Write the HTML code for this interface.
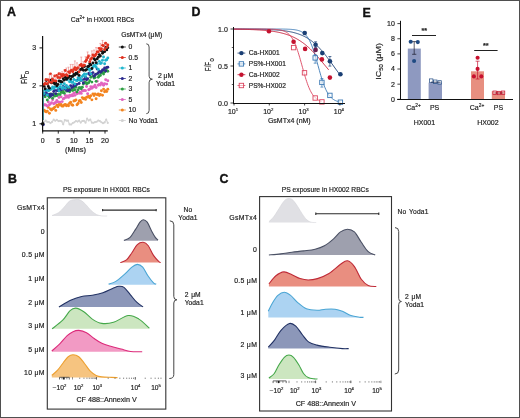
<!DOCTYPE html>
<html><head><meta charset="utf-8"><style>
html,body{margin:0;padding:0;background:#fff;overflow:hidden;}
svg{display:block;font-family:"Liberation Sans", sans-serif;will-change:transform;}
text{stroke:#222;stroke-width:0.18px;stroke-linejoin:round;paint-order:stroke;}
</style></head><body>
<svg width="520" height="418" viewBox="0 0 520 418">
<rect x="0" y="0" width="520" height="418" fill="#fff"/>
<text x="7.00" y="16.30" font-size="12.4" text-anchor="start" fill="#111" font-weight="bold" style="stroke:#111;stroke-width:0.35px">A</text>
<text x="191.60" y="16.40" font-size="12.4" text-anchor="start" fill="#111" font-weight="bold" style="stroke:#111;stroke-width:0.35px">D</text>
<text x="362.60" y="16.60" font-size="12.4" text-anchor="start" fill="#111" font-weight="bold" style="stroke:#111;stroke-width:0.35px">E</text>
<text x="7.90" y="182.70" font-size="12.4" text-anchor="start" fill="#111" font-weight="bold" style="stroke:#111;stroke-width:0.35px">B</text>
<text x="219.40" y="182.70" font-size="12.4" text-anchor="start" fill="#111" font-weight="bold" style="stroke:#111;stroke-width:0.35px">C</text>
<text x="70.80" y="21.50" font-size="6.8" text-anchor="start" fill="#222" font-weight="normal" >Ca<tspan font-size="4.6" dy="-2.8">2+</tspan><tspan dy="2.8"> in HX001 RBCs</tspan></text>
<polyline points="44.10,121.96 45.69,120.65 47.29,121.91 48.88,122.06 50.47,123.11 52.06,121.89 53.66,119.62 55.25,120.80 56.84,119.75 58.43,121.10 60.03,120.85 61.62,121.21 63.21,124.37 64.80,120.06 66.40,120.66 67.99,120.67 69.58,124.41 71.17,124.50 72.77,123.04 74.36,122.32 75.95,121.00 77.55,121.60 79.14,120.63 80.73,122.62 82.32,121.00 83.92,120.85 85.51,122.65 87.10,118.59 88.69,120.57 90.29,119.48 91.88,122.58 93.47,122.79 95.06,122.11 96.66,121.70 98.25,120.44 99.84,121.10 101.43,122.29 103.03,123.16 104.62,122.41 106.21,119.44 107.80,122.90" fill="none" stroke="#d8d8d8" stroke-width="1.3" stroke-linejoin="round"/>
<circle cx="44.10" cy="121.96" r="1.05" fill="#d2d2d2"/>
<circle cx="45.69" cy="120.65" r="1.05" fill="#d2d2d2"/>
<circle cx="47.29" cy="121.91" r="1.05" fill="#d2d2d2"/>
<circle cx="48.88" cy="122.06" r="1.05" fill="#d2d2d2"/>
<circle cx="50.47" cy="123.11" r="1.05" fill="#d2d2d2"/>
<circle cx="52.06" cy="121.89" r="1.05" fill="#d2d2d2"/>
<circle cx="53.66" cy="119.62" r="1.05" fill="#d2d2d2"/>
<circle cx="55.25" cy="120.80" r="1.05" fill="#d2d2d2"/>
<circle cx="56.84" cy="119.75" r="1.05" fill="#d2d2d2"/>
<circle cx="58.43" cy="121.10" r="1.05" fill="#d2d2d2"/>
<circle cx="60.03" cy="120.85" r="1.05" fill="#d2d2d2"/>
<circle cx="61.62" cy="121.21" r="1.05" fill="#d2d2d2"/>
<circle cx="63.21" cy="124.37" r="1.05" fill="#d2d2d2"/>
<circle cx="64.80" cy="120.06" r="1.05" fill="#d2d2d2"/>
<circle cx="66.40" cy="120.66" r="1.05" fill="#d2d2d2"/>
<circle cx="67.99" cy="120.67" r="1.05" fill="#d2d2d2"/>
<circle cx="69.58" cy="124.41" r="1.05" fill="#d2d2d2"/>
<circle cx="71.17" cy="124.50" r="1.05" fill="#d2d2d2"/>
<circle cx="72.77" cy="123.04" r="1.05" fill="#d2d2d2"/>
<circle cx="74.36" cy="122.32" r="1.05" fill="#d2d2d2"/>
<circle cx="75.95" cy="121.00" r="1.05" fill="#d2d2d2"/>
<circle cx="77.55" cy="121.60" r="1.05" fill="#d2d2d2"/>
<circle cx="79.14" cy="120.63" r="1.05" fill="#d2d2d2"/>
<circle cx="80.73" cy="122.62" r="1.05" fill="#d2d2d2"/>
<circle cx="82.32" cy="121.00" r="1.05" fill="#d2d2d2"/>
<circle cx="83.92" cy="120.85" r="1.05" fill="#d2d2d2"/>
<circle cx="85.51" cy="122.65" r="1.05" fill="#d2d2d2"/>
<circle cx="87.10" cy="118.59" r="1.05" fill="#d2d2d2"/>
<circle cx="88.69" cy="120.57" r="1.05" fill="#d2d2d2"/>
<circle cx="90.29" cy="119.48" r="1.05" fill="#d2d2d2"/>
<circle cx="91.88" cy="122.58" r="1.05" fill="#d2d2d2"/>
<circle cx="93.47" cy="122.79" r="1.05" fill="#d2d2d2"/>
<circle cx="95.06" cy="122.11" r="1.05" fill="#d2d2d2"/>
<circle cx="96.66" cy="121.70" r="1.05" fill="#d2d2d2"/>
<circle cx="98.25" cy="120.44" r="1.05" fill="#d2d2d2"/>
<circle cx="99.84" cy="121.10" r="1.05" fill="#d2d2d2"/>
<circle cx="101.43" cy="122.29" r="1.05" fill="#d2d2d2"/>
<circle cx="103.03" cy="123.16" r="1.05" fill="#d2d2d2"/>
<circle cx="104.62" cy="122.41" r="1.05" fill="#d2d2d2"/>
<circle cx="106.21" cy="119.44" r="1.05" fill="#d2d2d2"/>
<circle cx="107.80" cy="122.90" r="1.05" fill="#d2d2d2"/>
<circle cx="44.10" cy="110.25" r="1.45" fill="#f3841f"/>
<circle cx="45.16" cy="111.32" r="1.45" fill="#f3841f"/>
<circle cx="46.23" cy="111.92" r="1.45" fill="#f3841f"/>
<circle cx="47.29" cy="111.14" r="1.45" fill="#f3841f"/>
<circle cx="48.35" cy="107.40" r="1.45" fill="#f3841f"/>
<circle cx="49.41" cy="113.26" r="1.45" fill="#f3841f"/>
<circle cx="50.47" cy="108.93" r="1.45" fill="#f3841f"/>
<circle cx="51.53" cy="109.95" r="1.45" fill="#f3841f"/>
<circle cx="52.60" cy="108.90" r="1.45" fill="#f3841f"/>
<circle cx="53.66" cy="108.43" r="1.45" fill="#f3841f"/>
<circle cx="54.72" cy="107.17" r="1.45" fill="#f3841f"/>
<circle cx="55.78" cy="110.41" r="1.45" fill="#f3841f"/>
<circle cx="56.84" cy="105.25" r="1.45" fill="#f3841f"/>
<circle cx="57.90" cy="106.79" r="1.45" fill="#f3841f"/>
<circle cx="58.97" cy="104.39" r="1.45" fill="#f3841f"/>
<circle cx="60.03" cy="105.03" r="1.45" fill="#f3841f"/>
<circle cx="61.09" cy="104.49" r="1.45" fill="#f3841f"/>
<circle cx="62.15" cy="106.14" r="1.45" fill="#f3841f"/>
<circle cx="63.21" cy="106.07" r="1.45" fill="#f3841f"/>
<circle cx="64.27" cy="104.83" r="1.45" fill="#f3841f"/>
<circle cx="65.34" cy="104.54" r="1.45" fill="#f3841f"/>
<circle cx="66.40" cy="105.69" r="1.45" fill="#f3841f"/>
<circle cx="67.46" cy="104.84" r="1.45" fill="#f3841f"/>
<circle cx="68.52" cy="105.81" r="1.45" fill="#f3841f"/>
<circle cx="69.58" cy="103.24" r="1.45" fill="#f3841f"/>
<circle cx="70.64" cy="102.13" r="1.45" fill="#f3841f"/>
<circle cx="71.71" cy="104.70" r="1.45" fill="#f3841f"/>
<circle cx="72.77" cy="105.29" r="1.45" fill="#f3841f"/>
<circle cx="73.83" cy="101.00" r="1.45" fill="#f3841f"/>
<circle cx="74.89" cy="100.73" r="1.45" fill="#f3841f"/>
<circle cx="75.95" cy="99.95" r="1.45" fill="#f3841f"/>
<circle cx="77.01" cy="104.71" r="1.45" fill="#f3841f"/>
<circle cx="78.08" cy="103.56" r="1.45" fill="#f3841f"/>
<circle cx="79.14" cy="101.03" r="1.45" fill="#f3841f"/>
<circle cx="80.20" cy="100.55" r="1.45" fill="#f3841f"/>
<circle cx="81.26" cy="102.45" r="1.45" fill="#f3841f"/>
<circle cx="82.32" cy="97.62" r="1.45" fill="#f3841f"/>
<circle cx="83.38" cy="98.82" r="1.45" fill="#f3841f"/>
<circle cx="84.45" cy="98.14" r="1.45" fill="#f3841f"/>
<circle cx="85.51" cy="99.39" r="1.45" fill="#f3841f"/>
<circle cx="86.57" cy="97.16" r="1.45" fill="#f3841f"/>
<circle cx="87.63" cy="96.95" r="1.45" fill="#f3841f"/>
<circle cx="88.69" cy="96.31" r="1.45" fill="#f3841f"/>
<circle cx="89.75" cy="97.82" r="1.45" fill="#f3841f"/>
<circle cx="90.82" cy="95.72" r="1.45" fill="#f3841f"/>
<circle cx="91.88" cy="99.85" r="1.45" fill="#f3841f"/>
<circle cx="92.94" cy="93.85" r="1.45" fill="#f3841f"/>
<circle cx="94.00" cy="95.54" r="1.45" fill="#f3841f"/>
<circle cx="95.06" cy="94.02" r="1.45" fill="#f3841f"/>
<circle cx="96.12" cy="98.68" r="1.45" fill="#f3841f"/>
<circle cx="97.19" cy="94.75" r="1.45" fill="#f3841f"/>
<circle cx="98.25" cy="93.97" r="1.45" fill="#f3841f"/>
<circle cx="99.31" cy="95.49" r="1.45" fill="#f3841f"/>
<circle cx="100.37" cy="94.51" r="1.45" fill="#f3841f"/>
<circle cx="101.43" cy="90.76" r="1.45" fill="#f3841f"/>
<circle cx="102.50" cy="95.19" r="1.45" fill="#f3841f"/>
<circle cx="103.56" cy="89.09" r="1.45" fill="#f3841f"/>
<circle cx="104.62" cy="91.78" r="1.45" fill="#f3841f"/>
<circle cx="105.68" cy="90.77" r="1.45" fill="#f3841f"/>
<circle cx="106.74" cy="91.58" r="1.45" fill="#f3841f"/>
<circle cx="107.80" cy="89.25" r="1.45" fill="#f3841f"/>
<circle cx="44.10" cy="104.93" r="1.45" fill="#e264bf"/>
<circle cx="45.16" cy="104.79" r="1.45" fill="#e264bf"/>
<circle cx="46.23" cy="105.19" r="1.45" fill="#e264bf"/>
<circle cx="47.29" cy="106.12" r="1.45" fill="#e264bf"/>
<circle cx="48.35" cy="102.05" r="1.45" fill="#e264bf"/>
<circle cx="49.41" cy="104.71" r="1.45" fill="#e264bf"/>
<circle cx="50.47" cy="103.87" r="1.45" fill="#e264bf"/>
<circle cx="51.53" cy="102.64" r="1.45" fill="#e264bf"/>
<circle cx="52.60" cy="99.86" r="1.45" fill="#e264bf"/>
<circle cx="53.66" cy="103.73" r="1.45" fill="#e264bf"/>
<circle cx="54.72" cy="102.94" r="1.45" fill="#e264bf"/>
<circle cx="55.78" cy="102.50" r="1.45" fill="#e264bf"/>
<circle cx="56.84" cy="100.45" r="1.45" fill="#e264bf"/>
<circle cx="57.90" cy="101.92" r="1.45" fill="#e264bf"/>
<circle cx="58.97" cy="97.51" r="1.45" fill="#e264bf"/>
<circle cx="60.03" cy="102.10" r="1.45" fill="#e264bf"/>
<circle cx="61.09" cy="96.90" r="1.45" fill="#e264bf"/>
<circle cx="62.15" cy="101.62" r="1.45" fill="#e264bf"/>
<circle cx="63.21" cy="98.90" r="1.45" fill="#e264bf"/>
<circle cx="64.27" cy="98.25" r="1.45" fill="#e264bf"/>
<circle cx="65.34" cy="95.53" r="1.45" fill="#e264bf"/>
<circle cx="66.40" cy="97.19" r="1.45" fill="#e264bf"/>
<circle cx="67.46" cy="95.84" r="1.45" fill="#e264bf"/>
<circle cx="68.52" cy="97.41" r="1.45" fill="#e264bf"/>
<circle cx="69.58" cy="95.35" r="1.45" fill="#e264bf"/>
<circle cx="70.64" cy="96.07" r="1.45" fill="#e264bf"/>
<circle cx="71.71" cy="95.05" r="1.45" fill="#e264bf"/>
<circle cx="72.77" cy="95.72" r="1.45" fill="#e264bf"/>
<circle cx="73.83" cy="93.27" r="1.45" fill="#e264bf"/>
<circle cx="74.89" cy="95.34" r="1.45" fill="#e264bf"/>
<circle cx="75.95" cy="92.25" r="1.45" fill="#e264bf"/>
<circle cx="77.01" cy="93.82" r="1.45" fill="#e264bf"/>
<circle cx="78.08" cy="89.79" r="1.45" fill="#e264bf"/>
<circle cx="79.14" cy="93.33" r="1.45" fill="#e264bf"/>
<circle cx="80.20" cy="92.26" r="1.45" fill="#e264bf"/>
<circle cx="81.26" cy="93.42" r="1.45" fill="#e264bf"/>
<circle cx="82.32" cy="90.83" r="1.45" fill="#e264bf"/>
<circle cx="83.38" cy="90.79" r="1.45" fill="#e264bf"/>
<circle cx="84.45" cy="90.41" r="1.45" fill="#e264bf"/>
<circle cx="85.51" cy="90.66" r="1.45" fill="#e264bf"/>
<circle cx="86.57" cy="86.57" r="1.45" fill="#e264bf"/>
<circle cx="87.63" cy="93.74" r="1.45" fill="#e264bf"/>
<circle cx="88.69" cy="89.76" r="1.45" fill="#e264bf"/>
<circle cx="89.75" cy="89.13" r="1.45" fill="#e264bf"/>
<circle cx="90.82" cy="86.80" r="1.45" fill="#e264bf"/>
<circle cx="91.88" cy="88.23" r="1.45" fill="#e264bf"/>
<circle cx="92.94" cy="87.01" r="1.45" fill="#e264bf"/>
<circle cx="94.00" cy="86.74" r="1.45" fill="#e264bf"/>
<circle cx="95.06" cy="85.12" r="1.45" fill="#e264bf"/>
<circle cx="96.12" cy="87.43" r="1.45" fill="#e264bf"/>
<circle cx="97.19" cy="81.27" r="1.45" fill="#e264bf"/>
<circle cx="98.25" cy="85.32" r="1.45" fill="#e264bf"/>
<circle cx="99.31" cy="84.43" r="1.45" fill="#e264bf"/>
<circle cx="100.37" cy="85.02" r="1.45" fill="#e264bf"/>
<circle cx="101.43" cy="83.07" r="1.45" fill="#e264bf"/>
<circle cx="102.50" cy="84.06" r="1.45" fill="#e264bf"/>
<circle cx="103.56" cy="85.26" r="1.45" fill="#e264bf"/>
<circle cx="104.62" cy="83.72" r="1.45" fill="#e264bf"/>
<circle cx="105.68" cy="79.70" r="1.45" fill="#e264bf"/>
<circle cx="106.74" cy="84.11" r="1.45" fill="#e264bf"/>
<circle cx="107.80" cy="80.71" r="1.45" fill="#e264bf"/>
<circle cx="44.10" cy="95.18" r="1.45" fill="#2c9e44"/>
<circle cx="45.16" cy="96.73" r="1.45" fill="#2c9e44"/>
<circle cx="46.23" cy="93.83" r="1.45" fill="#2c9e44"/>
<circle cx="47.29" cy="100.07" r="1.45" fill="#2c9e44"/>
<circle cx="48.35" cy="96.09" r="1.45" fill="#2c9e44"/>
<circle cx="49.41" cy="97.47" r="1.45" fill="#2c9e44"/>
<circle cx="50.47" cy="94.07" r="1.45" fill="#2c9e44"/>
<circle cx="51.53" cy="94.76" r="1.45" fill="#2c9e44"/>
<circle cx="52.60" cy="98.27" r="1.45" fill="#2c9e44"/>
<circle cx="53.66" cy="94.22" r="1.45" fill="#2c9e44"/>
<circle cx="54.72" cy="96.13" r="1.45" fill="#2c9e44"/>
<circle cx="55.78" cy="94.30" r="1.45" fill="#2c9e44"/>
<circle cx="56.84" cy="95.66" r="1.45" fill="#2c9e44"/>
<circle cx="57.90" cy="94.53" r="1.45" fill="#2c9e44"/>
<circle cx="58.97" cy="91.04" r="1.45" fill="#2c9e44"/>
<circle cx="60.03" cy="94.48" r="1.45" fill="#2c9e44"/>
<circle cx="61.09" cy="92.03" r="1.45" fill="#2c9e44"/>
<circle cx="62.15" cy="92.51" r="1.45" fill="#2c9e44"/>
<circle cx="63.21" cy="91.56" r="1.45" fill="#2c9e44"/>
<circle cx="64.27" cy="93.28" r="1.45" fill="#2c9e44"/>
<circle cx="65.34" cy="88.85" r="1.45" fill="#2c9e44"/>
<circle cx="66.40" cy="90.96" r="1.45" fill="#2c9e44"/>
<circle cx="67.46" cy="91.03" r="1.45" fill="#2c9e44"/>
<circle cx="68.52" cy="88.16" r="1.45" fill="#2c9e44"/>
<circle cx="69.58" cy="91.73" r="1.45" fill="#2c9e44"/>
<circle cx="70.64" cy="89.98" r="1.45" fill="#2c9e44"/>
<circle cx="71.71" cy="89.80" r="1.45" fill="#2c9e44"/>
<circle cx="72.77" cy="90.57" r="1.45" fill="#2c9e44"/>
<circle cx="73.83" cy="87.74" r="1.45" fill="#2c9e44"/>
<circle cx="74.89" cy="89.84" r="1.45" fill="#2c9e44"/>
<circle cx="75.95" cy="87.25" r="1.45" fill="#2c9e44"/>
<circle cx="77.01" cy="91.91" r="1.45" fill="#2c9e44"/>
<circle cx="78.08" cy="89.85" r="1.45" fill="#2c9e44"/>
<circle cx="79.14" cy="87.63" r="1.45" fill="#2c9e44"/>
<circle cx="80.20" cy="87.70" r="1.45" fill="#2c9e44"/>
<circle cx="81.26" cy="88.80" r="1.45" fill="#2c9e44"/>
<circle cx="82.32" cy="87.14" r="1.45" fill="#2c9e44"/>
<circle cx="83.38" cy="83.99" r="1.45" fill="#2c9e44"/>
<circle cx="84.45" cy="82.45" r="1.45" fill="#2c9e44"/>
<circle cx="85.51" cy="82.35" r="1.45" fill="#2c9e44"/>
<circle cx="86.57" cy="83.68" r="1.45" fill="#2c9e44"/>
<circle cx="87.63" cy="83.26" r="1.45" fill="#2c9e44"/>
<circle cx="88.69" cy="82.66" r="1.45" fill="#2c9e44"/>
<circle cx="89.75" cy="80.77" r="1.45" fill="#2c9e44"/>
<circle cx="90.82" cy="77.24" r="1.45" fill="#2c9e44"/>
<circle cx="91.88" cy="82.08" r="1.45" fill="#2c9e44"/>
<circle cx="92.94" cy="76.10" r="1.45" fill="#2c9e44"/>
<circle cx="94.00" cy="78.04" r="1.45" fill="#2c9e44"/>
<circle cx="95.06" cy="77.55" r="1.45" fill="#2c9e44"/>
<circle cx="96.12" cy="81.35" r="1.45" fill="#2c9e44"/>
<circle cx="97.19" cy="73.96" r="1.45" fill="#2c9e44"/>
<circle cx="98.25" cy="77.32" r="1.45" fill="#2c9e44"/>
<circle cx="99.31" cy="75.82" r="1.45" fill="#2c9e44"/>
<circle cx="100.37" cy="75.38" r="1.45" fill="#2c9e44"/>
<circle cx="101.43" cy="73.10" r="1.45" fill="#2c9e44"/>
<circle cx="102.50" cy="72.53" r="1.45" fill="#2c9e44"/>
<circle cx="103.56" cy="74.09" r="1.45" fill="#2c9e44"/>
<circle cx="104.62" cy="71.89" r="1.45" fill="#2c9e44"/>
<circle cx="105.68" cy="69.28" r="1.45" fill="#2c9e44"/>
<circle cx="106.74" cy="70.71" r="1.45" fill="#2c9e44"/>
<circle cx="107.80" cy="71.22" r="1.45" fill="#2c9e44"/>
<circle cx="44.10" cy="94.85" r="1.45" fill="#2e2a8c"/>
<circle cx="45.16" cy="93.07" r="1.45" fill="#2e2a8c"/>
<circle cx="46.23" cy="92.80" r="1.45" fill="#2e2a8c"/>
<circle cx="47.29" cy="94.21" r="1.45" fill="#2e2a8c"/>
<circle cx="48.35" cy="89.93" r="1.45" fill="#2e2a8c"/>
<circle cx="49.41" cy="94.43" r="1.45" fill="#2e2a8c"/>
<circle cx="50.47" cy="96.22" r="1.45" fill="#2e2a8c"/>
<circle cx="51.53" cy="94.17" r="1.45" fill="#2e2a8c"/>
<circle cx="52.60" cy="94.93" r="1.45" fill="#2e2a8c"/>
<circle cx="53.66" cy="91.49" r="1.45" fill="#2e2a8c"/>
<circle cx="54.72" cy="90.49" r="1.45" fill="#2e2a8c"/>
<circle cx="55.78" cy="93.61" r="1.45" fill="#2e2a8c"/>
<circle cx="56.84" cy="90.60" r="1.45" fill="#2e2a8c"/>
<circle cx="57.90" cy="90.49" r="1.45" fill="#2e2a8c"/>
<circle cx="58.97" cy="89.96" r="1.45" fill="#2e2a8c"/>
<circle cx="60.03" cy="89.11" r="1.45" fill="#2e2a8c"/>
<circle cx="61.09" cy="89.73" r="1.45" fill="#2e2a8c"/>
<circle cx="62.15" cy="89.15" r="1.45" fill="#2e2a8c"/>
<circle cx="63.21" cy="86.36" r="1.45" fill="#2e2a8c"/>
<circle cx="64.27" cy="87.35" r="1.45" fill="#2e2a8c"/>
<circle cx="65.34" cy="89.38" r="1.45" fill="#2e2a8c"/>
<circle cx="66.40" cy="87.77" r="1.45" fill="#2e2a8c"/>
<circle cx="67.46" cy="90.66" r="1.45" fill="#2e2a8c"/>
<circle cx="68.52" cy="90.43" r="1.45" fill="#2e2a8c"/>
<circle cx="69.58" cy="89.90" r="1.45" fill="#2e2a8c"/>
<circle cx="70.64" cy="85.59" r="1.45" fill="#2e2a8c"/>
<circle cx="71.71" cy="87.65" r="1.45" fill="#2e2a8c"/>
<circle cx="72.77" cy="86.65" r="1.45" fill="#2e2a8c"/>
<circle cx="73.83" cy="84.84" r="1.45" fill="#2e2a8c"/>
<circle cx="74.89" cy="85.76" r="1.45" fill="#2e2a8c"/>
<circle cx="75.95" cy="84.66" r="1.45" fill="#2e2a8c"/>
<circle cx="77.01" cy="84.36" r="1.45" fill="#2e2a8c"/>
<circle cx="78.08" cy="79.35" r="1.45" fill="#2e2a8c"/>
<circle cx="79.14" cy="83.48" r="1.45" fill="#2e2a8c"/>
<circle cx="80.20" cy="80.19" r="1.45" fill="#2e2a8c"/>
<circle cx="81.26" cy="80.28" r="1.45" fill="#2e2a8c"/>
<circle cx="82.32" cy="80.06" r="1.45" fill="#2e2a8c"/>
<circle cx="83.38" cy="82.93" r="1.45" fill="#2e2a8c"/>
<circle cx="84.45" cy="79.25" r="1.45" fill="#2e2a8c"/>
<circle cx="85.51" cy="77.22" r="1.45" fill="#2e2a8c"/>
<circle cx="86.57" cy="79.78" r="1.45" fill="#2e2a8c"/>
<circle cx="87.63" cy="78.81" r="1.45" fill="#2e2a8c"/>
<circle cx="88.69" cy="73.49" r="1.45" fill="#2e2a8c"/>
<circle cx="89.75" cy="74.82" r="1.45" fill="#2e2a8c"/>
<circle cx="90.82" cy="73.99" r="1.45" fill="#2e2a8c"/>
<circle cx="91.88" cy="73.66" r="1.45" fill="#2e2a8c"/>
<circle cx="92.94" cy="72.62" r="1.45" fill="#2e2a8c"/>
<circle cx="94.00" cy="76.20" r="1.45" fill="#2e2a8c"/>
<circle cx="95.06" cy="74.69" r="1.45" fill="#2e2a8c"/>
<circle cx="96.12" cy="74.14" r="1.45" fill="#2e2a8c"/>
<circle cx="97.19" cy="69.08" r="1.45" fill="#2e2a8c"/>
<circle cx="98.25" cy="72.93" r="1.45" fill="#2e2a8c"/>
<circle cx="99.31" cy="71.33" r="1.45" fill="#2e2a8c"/>
<circle cx="100.37" cy="72.22" r="1.45" fill="#2e2a8c"/>
<circle cx="101.43" cy="71.40" r="1.45" fill="#2e2a8c"/>
<circle cx="102.50" cy="69.95" r="1.45" fill="#2e2a8c"/>
<circle cx="103.56" cy="69.68" r="1.45" fill="#2e2a8c"/>
<circle cx="104.62" cy="68.00" r="1.45" fill="#2e2a8c"/>
<circle cx="105.68" cy="70.93" r="1.45" fill="#2e2a8c"/>
<circle cx="106.74" cy="67.43" r="1.45" fill="#2e2a8c"/>
<circle cx="107.80" cy="67.26" r="1.45" fill="#2e2a8c"/>
<circle cx="44.10" cy="93.52" r="1.45" fill="#1fb3cc"/>
<circle cx="45.16" cy="90.11" r="1.45" fill="#1fb3cc"/>
<circle cx="46.23" cy="90.05" r="1.45" fill="#1fb3cc"/>
<circle cx="47.29" cy="95.07" r="1.45" fill="#1fb3cc"/>
<circle cx="48.35" cy="90.71" r="1.45" fill="#1fb3cc"/>
<circle cx="49.41" cy="90.04" r="1.45" fill="#1fb3cc"/>
<circle cx="50.47" cy="89.52" r="1.45" fill="#1fb3cc"/>
<circle cx="51.53" cy="88.72" r="1.45" fill="#1fb3cc"/>
<circle cx="52.60" cy="86.89" r="1.45" fill="#1fb3cc"/>
<circle cx="53.66" cy="88.50" r="1.45" fill="#1fb3cc"/>
<circle cx="54.72" cy="87.23" r="1.45" fill="#1fb3cc"/>
<circle cx="55.78" cy="86.85" r="1.45" fill="#1fb3cc"/>
<circle cx="56.84" cy="86.19" r="1.45" fill="#1fb3cc"/>
<circle cx="57.90" cy="88.03" r="1.45" fill="#1fb3cc"/>
<circle cx="58.97" cy="90.76" r="1.45" fill="#1fb3cc"/>
<circle cx="60.03" cy="86.78" r="1.45" fill="#1fb3cc"/>
<circle cx="61.09" cy="84.15" r="1.45" fill="#1fb3cc"/>
<circle cx="62.15" cy="88.53" r="1.45" fill="#1fb3cc"/>
<circle cx="63.21" cy="86.89" r="1.45" fill="#1fb3cc"/>
<circle cx="64.27" cy="83.68" r="1.45" fill="#1fb3cc"/>
<circle cx="65.34" cy="88.27" r="1.45" fill="#1fb3cc"/>
<circle cx="66.40" cy="85.39" r="1.45" fill="#1fb3cc"/>
<circle cx="67.46" cy="79.68" r="1.45" fill="#1fb3cc"/>
<circle cx="68.52" cy="86.97" r="1.45" fill="#1fb3cc"/>
<circle cx="69.58" cy="81.87" r="1.45" fill="#1fb3cc"/>
<circle cx="70.64" cy="80.87" r="1.45" fill="#1fb3cc"/>
<circle cx="71.71" cy="82.37" r="1.45" fill="#1fb3cc"/>
<circle cx="72.77" cy="82.31" r="1.45" fill="#1fb3cc"/>
<circle cx="73.83" cy="79.54" r="1.45" fill="#1fb3cc"/>
<circle cx="74.89" cy="84.02" r="1.45" fill="#1fb3cc"/>
<circle cx="75.95" cy="80.37" r="1.45" fill="#1fb3cc"/>
<circle cx="77.01" cy="80.86" r="1.45" fill="#1fb3cc"/>
<circle cx="78.08" cy="77.68" r="1.45" fill="#1fb3cc"/>
<circle cx="79.14" cy="80.09" r="1.45" fill="#1fb3cc"/>
<circle cx="80.20" cy="77.88" r="1.45" fill="#1fb3cc"/>
<circle cx="81.26" cy="80.22" r="1.45" fill="#1fb3cc"/>
<circle cx="82.32" cy="76.52" r="1.45" fill="#1fb3cc"/>
<circle cx="83.38" cy="75.08" r="1.45" fill="#1fb3cc"/>
<circle cx="84.45" cy="74.02" r="1.45" fill="#1fb3cc"/>
<circle cx="85.51" cy="76.60" r="1.45" fill="#1fb3cc"/>
<circle cx="86.57" cy="74.08" r="1.45" fill="#1fb3cc"/>
<circle cx="87.63" cy="68.84" r="1.45" fill="#1fb3cc"/>
<circle cx="88.69" cy="68.82" r="1.45" fill="#1fb3cc"/>
<circle cx="89.75" cy="70.57" r="1.45" fill="#1fb3cc"/>
<circle cx="90.82" cy="73.84" r="1.45" fill="#1fb3cc"/>
<circle cx="91.88" cy="69.07" r="1.45" fill="#1fb3cc"/>
<circle cx="92.94" cy="66.90" r="1.45" fill="#1fb3cc"/>
<circle cx="94.00" cy="65.63" r="1.45" fill="#1fb3cc"/>
<circle cx="95.06" cy="65.49" r="1.45" fill="#1fb3cc"/>
<circle cx="96.12" cy="67.31" r="1.45" fill="#1fb3cc"/>
<circle cx="97.19" cy="63.81" r="1.45" fill="#1fb3cc"/>
<circle cx="98.25" cy="69.22" r="1.45" fill="#1fb3cc"/>
<circle cx="99.31" cy="61.37" r="1.45" fill="#1fb3cc"/>
<circle cx="100.37" cy="63.58" r="1.45" fill="#1fb3cc"/>
<circle cx="101.43" cy="63.02" r="1.45" fill="#1fb3cc"/>
<circle cx="102.50" cy="60.24" r="1.45" fill="#1fb3cc"/>
<circle cx="103.56" cy="56.94" r="1.45" fill="#1fb3cc"/>
<circle cx="104.62" cy="63.70" r="1.45" fill="#1fb3cc"/>
<circle cx="105.68" cy="60.18" r="1.45" fill="#1fb3cc"/>
<circle cx="106.74" cy="59.73" r="1.45" fill="#1fb3cc"/>
<circle cx="107.80" cy="57.88" r="1.45" fill="#1fb3cc"/>
<circle cx="44.10" cy="86.23" r="1.45" fill="#111111"/>
<circle cx="45.16" cy="88.71" r="1.45" fill="#111111"/>
<circle cx="46.23" cy="80.61" r="1.45" fill="#111111"/>
<circle cx="47.29" cy="84.09" r="1.45" fill="#111111"/>
<circle cx="48.35" cy="86.51" r="1.45" fill="#111111"/>
<circle cx="49.41" cy="88.15" r="1.45" fill="#111111"/>
<circle cx="50.47" cy="80.14" r="1.45" fill="#111111"/>
<circle cx="51.53" cy="82.90" r="1.45" fill="#111111"/>
<circle cx="52.60" cy="79.26" r="1.45" fill="#111111"/>
<circle cx="53.66" cy="82.60" r="1.45" fill="#111111"/>
<circle cx="54.72" cy="83.93" r="1.45" fill="#111111"/>
<circle cx="55.78" cy="83.04" r="1.45" fill="#111111"/>
<circle cx="56.84" cy="85.82" r="1.45" fill="#111111"/>
<circle cx="57.90" cy="84.38" r="1.45" fill="#111111"/>
<circle cx="58.97" cy="81.03" r="1.45" fill="#111111"/>
<circle cx="60.03" cy="81.23" r="1.45" fill="#111111"/>
<circle cx="61.09" cy="81.70" r="1.45" fill="#111111"/>
<circle cx="62.15" cy="81.86" r="1.45" fill="#111111"/>
<circle cx="63.21" cy="78.66" r="1.45" fill="#111111"/>
<circle cx="64.27" cy="79.96" r="1.45" fill="#111111"/>
<circle cx="65.34" cy="77.23" r="1.45" fill="#111111"/>
<circle cx="66.40" cy="79.21" r="1.45" fill="#111111"/>
<circle cx="67.46" cy="78.05" r="1.45" fill="#111111"/>
<circle cx="68.52" cy="76.99" r="1.45" fill="#111111"/>
<circle cx="69.58" cy="76.24" r="1.45" fill="#111111"/>
<circle cx="70.64" cy="79.10" r="1.45" fill="#111111"/>
<circle cx="71.71" cy="76.49" r="1.45" fill="#111111"/>
<circle cx="72.77" cy="76.39" r="1.45" fill="#111111"/>
<circle cx="73.83" cy="74.39" r="1.45" fill="#111111"/>
<circle cx="74.89" cy="75.00" r="1.45" fill="#111111"/>
<circle cx="75.95" cy="73.10" r="1.45" fill="#111111"/>
<circle cx="77.01" cy="73.88" r="1.45" fill="#111111"/>
<circle cx="78.08" cy="72.25" r="1.45" fill="#111111"/>
<circle cx="79.14" cy="75.38" r="1.45" fill="#111111"/>
<circle cx="80.20" cy="69.63" r="1.45" fill="#111111"/>
<circle cx="81.26" cy="69.29" r="1.45" fill="#111111"/>
<circle cx="82.32" cy="68.08" r="1.45" fill="#111111"/>
<circle cx="83.38" cy="70.21" r="1.45" fill="#111111"/>
<circle cx="84.45" cy="66.53" r="1.45" fill="#111111"/>
<circle cx="85.51" cy="70.22" r="1.45" fill="#111111"/>
<circle cx="86.57" cy="69.62" r="1.45" fill="#111111"/>
<circle cx="87.63" cy="66.67" r="1.45" fill="#111111"/>
<circle cx="88.69" cy="66.19" r="1.45" fill="#111111"/>
<circle cx="89.75" cy="63.80" r="1.45" fill="#111111"/>
<circle cx="90.82" cy="64.88" r="1.45" fill="#111111"/>
<circle cx="91.88" cy="68.45" r="1.45" fill="#111111"/>
<circle cx="92.94" cy="63.01" r="1.45" fill="#111111"/>
<circle cx="94.00" cy="58.63" r="1.45" fill="#111111"/>
<circle cx="95.06" cy="59.94" r="1.45" fill="#111111"/>
<circle cx="96.12" cy="62.67" r="1.45" fill="#111111"/>
<circle cx="97.19" cy="58.91" r="1.45" fill="#111111"/>
<circle cx="98.25" cy="57.16" r="1.45" fill="#111111"/>
<circle cx="99.31" cy="54.65" r="1.45" fill="#111111"/>
<circle cx="100.37" cy="56.06" r="1.45" fill="#111111"/>
<circle cx="101.43" cy="50.92" r="1.45" fill="#111111"/>
<circle cx="102.50" cy="53.23" r="1.45" fill="#111111"/>
<circle cx="103.56" cy="52.11" r="1.45" fill="#111111"/>
<circle cx="104.62" cy="51.67" r="1.45" fill="#111111"/>
<circle cx="105.68" cy="47.31" r="1.45" fill="#111111"/>
<circle cx="106.74" cy="49.88" r="1.45" fill="#111111"/>
<circle cx="107.80" cy="47.67" r="1.45" fill="#111111"/>
<circle cx="44.10" cy="84.41" r="1.45" fill="#e2321f"/>
<path d="M45.16,83.55V79.08M44.16,79.08h2" stroke="#e98080" stroke-width="0.6" fill="none"/>
<circle cx="45.16" cy="83.55" r="1.45" fill="#e2321f"/>
<circle cx="46.23" cy="79.47" r="1.45" fill="#e2321f"/>
<path d="M47.29,83.69V78.46M46.29,78.46h2" stroke="#e98080" stroke-width="0.6" fill="none"/>
<circle cx="47.29" cy="83.69" r="1.45" fill="#e2321f"/>
<circle cx="48.35" cy="79.99" r="1.45" fill="#e2321f"/>
<path d="M49.41,82.08V74.21M48.41,74.21h2" stroke="#e98080" stroke-width="0.6" fill="none"/>
<circle cx="49.41" cy="82.08" r="1.45" fill="#e2321f"/>
<circle cx="50.47" cy="73.83" r="1.45" fill="#e2321f"/>
<path d="M51.53,82.41V74.59M50.53,74.59h2" stroke="#e98080" stroke-width="0.6" fill="none"/>
<circle cx="51.53" cy="82.41" r="1.45" fill="#e2321f"/>
<circle cx="52.60" cy="79.21" r="1.45" fill="#e2321f"/>
<path d="M53.66,80.76V77.75M52.66,77.75h2" stroke="#e98080" stroke-width="0.6" fill="none"/>
<circle cx="53.66" cy="80.76" r="1.45" fill="#e2321f"/>
<circle cx="54.72" cy="75.91" r="1.45" fill="#e2321f"/>
<path d="M55.78,81.07V75.55M54.78,75.55h2" stroke="#e98080" stroke-width="0.6" fill="none"/>
<circle cx="55.78" cy="81.07" r="1.45" fill="#e2321f"/>
<circle cx="56.84" cy="75.34" r="1.45" fill="#e2321f"/>
<path d="M57.90,77.54V74.52M56.90,74.52h2" stroke="#e98080" stroke-width="0.6" fill="none"/>
<circle cx="57.90" cy="77.54" r="1.45" fill="#e2321f"/>
<circle cx="58.97" cy="73.71" r="1.45" fill="#e2321f"/>
<path d="M60.03,77.64V72.64M59.03,72.64h2" stroke="#e98080" stroke-width="0.6" fill="none"/>
<circle cx="60.03" cy="77.64" r="1.45" fill="#e2321f"/>
<circle cx="61.09" cy="74.49" r="1.45" fill="#e2321f"/>
<path d="M62.15,76.27V71.75M61.15,71.75h2" stroke="#e98080" stroke-width="0.6" fill="none"/>
<circle cx="62.15" cy="76.27" r="1.45" fill="#e2321f"/>
<circle cx="63.21" cy="74.50" r="1.45" fill="#e2321f"/>
<path d="M64.27,75.41V69.76M63.27,69.76h2" stroke="#e98080" stroke-width="0.6" fill="none"/>
<circle cx="64.27" cy="75.41" r="1.45" fill="#e2321f"/>
<circle cx="65.34" cy="70.49" r="1.45" fill="#e2321f"/>
<path d="M66.40,74.59V68.01M65.40,68.01h2" stroke="#e98080" stroke-width="0.6" fill="none"/>
<circle cx="66.40" cy="74.59" r="1.45" fill="#e2321f"/>
<circle cx="67.46" cy="75.70" r="1.45" fill="#e2321f"/>
<path d="M68.52,71.83V67.20M67.52,67.20h2" stroke="#e98080" stroke-width="0.6" fill="none"/>
<circle cx="68.52" cy="71.83" r="1.45" fill="#e2321f"/>
<circle cx="69.58" cy="72.79" r="1.45" fill="#e2321f"/>
<path d="M70.64,71.05V64.43M69.64,64.43h2" stroke="#e98080" stroke-width="0.6" fill="none"/>
<circle cx="70.64" cy="71.05" r="1.45" fill="#e2321f"/>
<circle cx="71.71" cy="70.22" r="1.45" fill="#e2321f"/>
<path d="M72.77,71.63V64.45M71.77,64.45h2" stroke="#e98080" stroke-width="0.6" fill="none"/>
<circle cx="72.77" cy="71.63" r="1.45" fill="#e2321f"/>
<circle cx="73.83" cy="69.50" r="1.45" fill="#e2321f"/>
<path d="M74.89,67.58V60.91M73.89,60.91h2" stroke="#e98080" stroke-width="0.6" fill="none"/>
<circle cx="74.89" cy="67.58" r="1.45" fill="#e2321f"/>
<circle cx="75.95" cy="69.85" r="1.45" fill="#e2321f"/>
<path d="M77.01,68.47V62.85M76.01,62.85h2" stroke="#e98080" stroke-width="0.6" fill="none"/>
<circle cx="77.01" cy="68.47" r="1.45" fill="#e2321f"/>
<circle cx="78.08" cy="67.82" r="1.45" fill="#e2321f"/>
<path d="M79.14,71.86V64.84M78.14,64.84h2" stroke="#e98080" stroke-width="0.6" fill="none"/>
<circle cx="79.14" cy="71.86" r="1.45" fill="#e2321f"/>
<circle cx="80.20" cy="65.19" r="1.45" fill="#e2321f"/>
<path d="M81.26,64.56V57.09M80.26,57.09h2" stroke="#e98080" stroke-width="0.6" fill="none"/>
<circle cx="81.26" cy="64.56" r="1.45" fill="#e2321f"/>
<circle cx="82.32" cy="66.16" r="1.45" fill="#e2321f"/>
<path d="M83.38,65.79V61.64M82.38,61.64h2" stroke="#e98080" stroke-width="0.6" fill="none"/>
<circle cx="83.38" cy="65.79" r="1.45" fill="#e2321f"/>
<circle cx="84.45" cy="65.09" r="1.45" fill="#e2321f"/>
<path d="M85.51,61.57V56.77M84.51,56.77h2" stroke="#e98080" stroke-width="0.6" fill="none"/>
<circle cx="85.51" cy="61.57" r="1.45" fill="#e2321f"/>
<circle cx="86.57" cy="60.06" r="1.45" fill="#e2321f"/>
<path d="M87.63,57.75V51.96M86.63,51.96h2" stroke="#e98080" stroke-width="0.6" fill="none"/>
<circle cx="87.63" cy="57.75" r="1.45" fill="#e2321f"/>
<circle cx="88.69" cy="56.06" r="1.45" fill="#e2321f"/>
<path d="M89.75,61.80V55.40M88.75,55.40h2" stroke="#e98080" stroke-width="0.6" fill="none"/>
<circle cx="89.75" cy="61.80" r="1.45" fill="#e2321f"/>
<circle cx="90.82" cy="59.29" r="1.45" fill="#e2321f"/>
<path d="M91.88,57.87V50.89M90.88,50.89h2" stroke="#e98080" stroke-width="0.6" fill="none"/>
<circle cx="91.88" cy="57.87" r="1.45" fill="#e2321f"/>
<circle cx="92.94" cy="55.04" r="1.45" fill="#e2321f"/>
<path d="M94.00,55.78V50.10M93.00,50.10h2" stroke="#e98080" stroke-width="0.6" fill="none"/>
<circle cx="94.00" cy="55.78" r="1.45" fill="#e2321f"/>
<circle cx="95.06" cy="55.80" r="1.45" fill="#e2321f"/>
<path d="M96.12,54.26V47.58M95.12,47.58h2" stroke="#e98080" stroke-width="0.6" fill="none"/>
<circle cx="96.12" cy="54.26" r="1.45" fill="#e2321f"/>
<circle cx="97.19" cy="51.88" r="1.45" fill="#e2321f"/>
<path d="M98.25,51.88V47.55M97.25,47.55h2" stroke="#e98080" stroke-width="0.6" fill="none"/>
<circle cx="98.25" cy="51.88" r="1.45" fill="#e2321f"/>
<circle cx="99.31" cy="48.33" r="1.45" fill="#e2321f"/>
<path d="M100.37,50.13V43.43M99.37,43.43h2" stroke="#e98080" stroke-width="0.6" fill="none"/>
<circle cx="100.37" cy="50.13" r="1.45" fill="#e2321f"/>
<circle cx="101.43" cy="48.82" r="1.45" fill="#e2321f"/>
<path d="M102.50,45.36V40.45M101.50,40.45h2" stroke="#e98080" stroke-width="0.6" fill="none"/>
<circle cx="102.50" cy="45.36" r="1.45" fill="#e2321f"/>
<circle cx="103.56" cy="45.75" r="1.45" fill="#e2321f"/>
<path d="M104.62,49.47V42.64M103.62,42.64h2" stroke="#e98080" stroke-width="0.6" fill="none"/>
<circle cx="104.62" cy="49.47" r="1.45" fill="#e2321f"/>
<circle cx="105.68" cy="43.26" r="1.45" fill="#e2321f"/>
<path d="M106.74,47.33V43.94M105.74,43.94h2" stroke="#e98080" stroke-width="0.6" fill="none"/>
<circle cx="106.74" cy="47.33" r="1.45" fill="#e2321f"/>
<circle cx="107.80" cy="44.94" r="1.45" fill="#e2321f"/>
<line x1="43.48" y1="120.00" x2="43.48" y2="89.64" stroke="#2a9aa8" stroke-width="0.8"/>
<circle cx="43.10" cy="124.60" r="1.7" fill="#2e2a8c"/>
<circle cx="42.70" cy="123.80" r="1.7" fill="#111"/>
<line x1="42.60" y1="36.00" x2="42.60" y2="131.50" stroke="#111" stroke-width="1.2" />
<line x1="42.00" y1="130.90" x2="107.80" y2="130.90" stroke="#111" stroke-width="1.2" />
<line x1="39.50" y1="123.80" x2="42.50" y2="123.80" stroke="#111" stroke-width="1" />
<text x="36.20" y="126.20" font-size="7" text-anchor="end" fill="#222" font-weight="normal" >1</text>
<line x1="39.50" y1="85.85" x2="42.50" y2="85.85" stroke="#111" stroke-width="1" />
<text x="36.20" y="88.25" font-size="7" text-anchor="end" fill="#222" font-weight="normal" >2</text>
<line x1="39.50" y1="47.90" x2="42.50" y2="47.90" stroke="#111" stroke-width="1" />
<text x="36.20" y="50.30" font-size="7" text-anchor="end" fill="#222" font-weight="normal" >3</text>
<line x1="42.70" y1="130.80" x2="42.70" y2="133.60" stroke="#111" stroke-width="0.9" />
<text x="42.70" y="142.80" font-size="7" text-anchor="middle" fill="#222" font-weight="normal" >0</text>
<line x1="58.28" y1="130.80" x2="58.28" y2="133.60" stroke="#111" stroke-width="0.9" />
<text x="58.28" y="142.80" font-size="7" text-anchor="middle" fill="#222" font-weight="normal" >5</text>
<line x1="73.85" y1="130.80" x2="73.85" y2="133.60" stroke="#111" stroke-width="0.9" />
<text x="73.85" y="142.80" font-size="7" text-anchor="middle" fill="#222" font-weight="normal" >10</text>
<line x1="89.43" y1="130.80" x2="89.43" y2="133.60" stroke="#111" stroke-width="0.9" />
<text x="89.43" y="142.80" font-size="7" text-anchor="middle" fill="#222" font-weight="normal" >15</text>
<line x1="105.00" y1="130.80" x2="105.00" y2="133.60" stroke="#111" stroke-width="0.9" />
<text x="105.00" y="142.80" font-size="7" text-anchor="middle" fill="#222" font-weight="normal" >20</text>
<text x="75.50" y="152.30" font-size="7.5" text-anchor="middle" fill="#222" font-weight="normal" >(Mins)</text>
<text transform="translate(26.6,79.1) rotate(-90) scale(0.78,1)" font-size="8.4" text-anchor="middle" fill="#222">F/F</text>
<text transform="translate(29.3,72.7) rotate(-90)" font-size="6" text-anchor="middle" fill="#222">0</text>
<text x="121.20" y="36.50" font-size="6.7" text-anchor="start" fill="#222" font-weight="normal" >GsMTx4 (μM)</text>
<line x1="118.80" y1="47.00" x2="125.80" y2="47.00" stroke="#111111" stroke-width="0.8" />
<circle cx="122.3" cy="47.00" r="1.5" fill="#111111"/>
<text x="128.60" y="49.40" font-size="6.8" text-anchor="start" fill="#222" font-weight="normal" >0</text>
<line x1="118.80" y1="57.50" x2="125.80" y2="57.50" stroke="#e0301e" stroke-width="0.8" />
<circle cx="122.3" cy="57.50" r="1.5" fill="#e0301e"/>
<text x="128.60" y="59.90" font-size="6.8" text-anchor="start" fill="#222" font-weight="normal" >0.5</text>
<line x1="118.80" y1="68.00" x2="125.80" y2="68.00" stroke="#22b8cf" stroke-width="0.8" />
<circle cx="122.3" cy="68.00" r="1.5" fill="#22b8cf"/>
<text x="128.60" y="70.40" font-size="6.8" text-anchor="start" fill="#222" font-weight="normal" >1</text>
<line x1="118.80" y1="78.50" x2="125.80" y2="78.50" stroke="#2b2a8e" stroke-width="0.8" />
<circle cx="122.3" cy="78.50" r="1.5" fill="#2b2a8e"/>
<text x="128.60" y="80.90" font-size="6.8" text-anchor="start" fill="#222" font-weight="normal" >2</text>
<line x1="118.80" y1="89.00" x2="125.80" y2="89.00" stroke="#2ea043" stroke-width="0.8" />
<circle cx="122.3" cy="89.00" r="1.5" fill="#2ea043"/>
<text x="128.60" y="91.40" font-size="6.8" text-anchor="start" fill="#222" font-weight="normal" >3</text>
<line x1="118.80" y1="99.50" x2="125.80" y2="99.50" stroke="#e065c0" stroke-width="0.8" />
<circle cx="122.3" cy="99.50" r="1.5" fill="#e065c0"/>
<text x="128.60" y="101.90" font-size="6.8" text-anchor="start" fill="#222" font-weight="normal" >5</text>
<line x1="118.80" y1="110.00" x2="125.80" y2="110.00" stroke="#f08522" stroke-width="0.8" />
<circle cx="122.3" cy="110.00" r="1.5" fill="#f08522"/>
<text x="128.60" y="112.40" font-size="6.8" text-anchor="start" fill="#222" font-weight="normal" >10</text>
<line x1="118.80" y1="120.50" x2="125.80" y2="120.50" stroke="#d2d2d2" stroke-width="0.8" />
<circle cx="122.3" cy="120.50" r="1.5" fill="#d2d2d2"/>
<text x="128.60" y="122.90" font-size="6.8" text-anchor="start" fill="#222" font-weight="normal" >No Yoda1</text>
<path d="M146.3,43.8 Q149.1,43.8 149.1,47 L149.1,76.2 Q149.1,79.2 152.4,79.2 Q149.1,79.2 149.1,82.2 L149.1,110.5 Q149.1,113.7 146.3,113.7" stroke="#333" stroke-width="0.85" fill="none"/>
<text x="165.50" y="77.60" font-size="6.8" text-anchor="middle" fill="#222" font-weight="normal" >2 μM</text>
<text x="165.50" y="85.60" font-size="6.8" text-anchor="middle" fill="#222" font-weight="normal" >Yoda1</text>
<polyline points="234.00,29.04 234.71,29.04 235.41,29.05 236.12,29.05 236.82,29.05 237.53,29.06 238.24,29.06 238.94,29.06 239.65,29.06 240.35,29.07 241.06,29.07 241.77,29.08 242.47,29.08 243.18,29.08 243.88,29.09 244.59,29.09 245.30,29.10 246.00,29.10 246.71,29.11 247.41,29.12 248.12,29.12 248.83,29.13 249.53,29.14 250.24,29.14 250.94,29.15 251.65,29.16 252.36,29.17 253.06,29.18 253.77,29.19 254.47,29.20 255.18,29.21 255.89,29.22 256.59,29.23 257.30,29.24 258.00,29.26 258.71,29.27 259.42,29.28 260.12,29.30 260.83,29.32 261.53,29.33 262.24,29.35 262.95,29.37 263.65,29.39 264.36,29.41 265.06,29.43 265.77,29.46 266.48,29.48 267.18,29.51 267.89,29.53 268.59,29.56 269.30,29.59 270.01,29.63 270.71,29.66 271.42,29.69 272.12,29.73 272.83,29.77 273.54,29.81 274.24,29.86 274.95,29.90 275.65,29.95 276.36,30.00 277.07,30.06 277.77,30.11 278.48,30.17 279.18,30.23 279.89,30.30 280.60,30.37 281.30,30.44 282.01,30.52 282.71,30.60 283.42,30.69 284.13,30.78 284.83,30.87 285.54,30.97 286.24,31.07 286.95,31.18 287.66,31.30 288.36,31.42 289.07,31.54 289.77,31.68 290.48,31.82 291.19,31.96 291.89,32.12 292.60,32.28 293.30,32.45 294.01,32.63 294.72,32.82 295.42,33.01 296.13,33.22 296.83,33.44 297.54,33.66 298.25,33.90 298.95,34.15 299.66,34.41 300.36,34.68 301.07,34.96 301.78,35.26 302.48,35.57 303.19,35.89 303.89,36.23 304.60,36.58 305.31,36.95 306.01,37.33 306.72,37.73 307.42,38.15 308.13,38.58 308.84,39.03 309.54,39.50 310.25,39.99 310.95,40.49 311.66,41.02 312.37,41.56 313.07,42.12 313.78,42.70 314.48,43.30 315.19,43.93 315.90,44.57 316.60,45.23 317.31,45.91 318.01,46.61 318.72,47.33 319.43,48.07 320.13,48.83 320.84,49.61 321.54,50.40 322.25,51.22 322.96,52.05 323.66,52.90 324.37,53.76 325.07,54.64 325.78,55.54 326.49,56.45 327.19,57.37 327.90,58.30 328.60,59.24 329.31,60.19 330.02,61.15 330.72,62.12 331.43,63.09 332.13,64.06 332.84,65.04 333.55,66.02 334.25,67.00 334.96,67.98 335.66,68.96 336.37,69.93 337.08,70.89 337.78,71.85 338.49,72.80 339.19,73.74 339.90,74.68 340.61,75.60" fill="none" stroke="#1a3f74" stroke-width="0.9"/>
<polyline points="234.00,29.00 234.71,29.00 235.41,29.00 236.12,29.00 236.82,29.00 237.53,29.00 238.24,29.00 238.94,29.00 239.65,29.00 240.35,29.00 241.06,29.00 241.77,29.00 242.47,29.00 243.18,29.00 243.88,29.00 244.59,29.00 245.30,29.00 246.00,29.00 246.71,29.00 247.41,29.00 248.12,29.00 248.83,29.00 249.53,29.00 250.24,29.00 250.94,29.00 251.65,29.00 252.36,29.00 253.06,29.00 253.77,29.00 254.47,29.00 255.18,29.00 255.89,29.00 256.59,29.00 257.30,29.00 258.00,29.00 258.71,29.00 259.42,29.00 260.12,29.00 260.83,29.00 261.53,29.00 262.24,29.00 262.95,29.00 263.65,29.00 264.36,29.00 265.06,29.00 265.77,29.00 266.48,29.00 267.18,29.00 267.89,29.00 268.59,29.00 269.30,29.01 270.01,29.01 270.71,29.01 271.42,29.01 272.12,29.01 272.83,29.01 273.54,29.01 274.24,29.01 274.95,29.02 275.65,29.02 276.36,29.02 277.07,29.02 277.77,29.03 278.48,29.03 279.18,29.04 279.89,29.04 280.60,29.05 281.30,29.05 282.01,29.06 282.71,29.07 283.42,29.08 284.13,29.09 284.83,29.11 285.54,29.13 286.24,29.14 286.95,29.16 287.66,29.19 288.36,29.22 289.07,29.25 289.77,29.29 290.48,29.33 291.19,29.38 291.89,29.43 292.60,29.50 293.30,29.57 294.01,29.65 294.72,29.75 295.42,29.86 296.13,29.98 296.83,30.12 297.54,30.29 298.25,30.48 298.95,30.69 299.66,30.93 300.36,31.21 301.07,31.53 301.78,31.89 302.48,32.30 303.19,32.76 303.89,33.28 304.60,33.88 305.31,34.55 306.01,35.30 306.72,36.14 307.42,37.08 308.13,38.13 308.84,39.30 309.54,40.58 310.25,42.00 310.95,43.55 311.66,45.23 312.37,47.05 313.07,49.00 313.78,51.08 314.48,53.27 315.19,55.58 315.90,57.97 316.60,60.44 317.31,62.96 318.01,65.51 318.72,68.07 319.43,70.60 320.13,73.09 320.84,75.52 321.54,77.86 322.25,80.10 322.96,82.22 323.66,84.22 324.37,86.09 325.07,87.83 325.78,89.43 326.49,90.89 327.19,92.23 327.90,93.44 328.60,94.53 329.31,95.51 330.02,96.39 330.72,97.18 331.43,97.88 332.13,98.50 332.84,99.05 333.55,99.53 334.25,99.96 334.96,100.34 335.66,100.67 336.37,100.96 337.08,101.22 337.78,101.45 338.49,101.64 339.19,101.82 339.90,101.97 340.61,102.10" fill="none" stroke="#3a78b4" stroke-width="0.9"/>
<polyline points="234.00,29.19 234.71,29.20 235.41,29.21 236.12,29.22 236.82,29.23 237.53,29.24 238.24,29.25 238.94,29.26 239.65,29.27 240.35,29.29 241.06,29.30 241.77,29.31 242.47,29.33 243.18,29.34 243.88,29.36 244.59,29.38 245.30,29.39 246.00,29.41 246.71,29.43 247.41,29.45 248.12,29.47 248.83,29.50 249.53,29.52 250.24,29.54 250.94,29.57 251.65,29.60 252.36,29.62 253.06,29.65 253.77,29.68 254.47,29.71 255.18,29.75 255.89,29.78 256.59,29.82 257.30,29.86 258.00,29.90 258.71,29.94 259.42,29.98 260.12,30.03 260.83,30.08 261.53,30.13 262.24,30.18 262.95,30.23 263.65,30.29 264.36,30.35 265.06,30.41 265.77,30.48 266.48,30.55 267.18,30.62 267.89,30.69 268.59,30.77 269.30,30.85 270.01,30.93 270.71,31.02 271.42,31.12 272.12,31.21 272.83,31.31 273.54,31.42 274.24,31.53 274.95,31.64 275.65,31.76 276.36,31.89 277.07,32.02 277.77,32.16 278.48,32.30 279.18,32.45 279.89,32.60 280.60,32.76 281.30,32.93 282.01,33.11 282.71,33.29 283.42,33.48 284.13,33.68 284.83,33.88 285.54,34.10 286.24,34.32 286.95,34.55 287.66,34.79 288.36,35.04 289.07,35.30 289.77,35.57 290.48,35.85 291.19,36.15 291.89,36.45 292.60,36.76 293.30,37.09 294.01,37.43 294.72,37.78 295.42,38.14 296.13,38.51 296.83,38.90 297.54,39.30 298.25,39.72 298.95,40.15 299.66,40.59 300.36,41.05 301.07,41.52 301.78,42.01 302.48,42.51 303.19,43.03 303.89,43.56 304.60,44.10 305.31,44.66 306.01,45.24 306.72,45.83 307.42,46.44 308.13,47.06 308.84,47.69 309.54,48.34 310.25,49.01 310.95,49.69 311.66,50.38 312.37,51.09 313.07,51.81 313.78,52.54 314.48,53.29 315.19,54.05 315.90,54.81 316.60,55.59 317.31,56.38 318.01,57.18 318.72,57.99 319.43,58.81 320.13,59.63 320.84,60.46 321.54,61.29 322.25,62.13 322.96,62.98 323.66,63.83 324.37,64.68 325.07,65.53 325.78,66.38 326.49,67.23 327.19,68.08 327.90,68.93 328.60,69.78" fill="none" stroke="#c4122f" stroke-width="0.9"/>
<polyline points="234.00,29.00 234.71,29.00 235.41,29.00 236.12,29.00 236.82,29.00 237.53,29.00 238.24,29.00 238.94,29.00 239.65,29.00 240.35,29.00 241.06,29.00 241.77,29.00 242.47,29.00 243.18,29.00 243.88,29.00 244.59,29.00 245.30,29.00 246.00,29.00 246.71,29.00 247.41,29.00 248.12,29.00 248.83,29.00 249.53,29.00 250.24,29.00 250.94,29.00 251.65,29.00 252.36,29.00 253.06,29.01 253.77,29.01 254.47,29.01 255.18,29.01 255.89,29.01 256.59,29.01 257.30,29.01 258.00,29.01 258.71,29.02 259.42,29.02 260.12,29.02 260.83,29.02 261.53,29.03 262.24,29.03 262.95,29.03 263.65,29.04 264.36,29.05 265.06,29.05 265.77,29.06 266.48,29.07 267.18,29.08 267.89,29.09 268.59,29.10 269.30,29.12 270.01,29.14 270.71,29.16 271.42,29.18 272.12,29.21 272.83,29.24 273.54,29.28 274.24,29.32 274.95,29.36 275.65,29.42 276.36,29.48 277.07,29.55 277.77,29.63 278.48,29.72 279.18,29.82 279.89,29.94 280.60,30.08 281.30,30.24 282.01,30.42 282.71,30.63 283.42,30.86 284.13,31.13 284.83,31.43 285.54,31.78 286.24,32.18 286.95,32.62 287.66,33.13 288.36,33.70 289.07,34.35 289.77,35.08 290.48,35.89 291.19,36.81 291.89,37.83 292.60,38.96 293.30,40.21 294.01,41.59 294.72,43.10 295.42,44.74 296.13,46.52 296.83,48.44 297.54,50.48 298.25,52.65 298.95,54.92 299.66,57.29 300.36,59.75 301.07,62.25 301.78,64.80 302.48,67.35 303.19,69.89 303.89,72.40 304.60,74.85 305.31,77.21 306.01,79.48 306.72,81.64 307.42,83.68 308.13,85.58 308.84,87.36 309.54,88.99 310.25,90.49 310.95,91.87 311.66,93.11 312.37,94.24 313.07,95.25 313.78,96.16 314.48,96.97 315.19,97.69 315.90,98.33 316.60,98.90 317.31,99.40 318.01,99.85 318.72,100.24 319.43,100.58 320.13,100.89 320.84,101.15 321.54,101.39" fill="none" stroke="#dc4660" stroke-width="0.9"/>
<path d="M315.60,41.80V47.60M314.10,41.80h3M314.10,47.60h3" stroke="#1a3f74" stroke-width="0.7" fill="none"/>
<path d="M329.90,56.50V66.10M328.40,56.50h3M328.40,66.10h3" stroke="#1a3f74" stroke-width="0.7" fill="none"/>
<path d="M315.20,54.60V63.20M313.70,54.60h3M313.70,63.20h3" stroke="#3a78b4" stroke-width="0.7" fill="none"/>
<path d="M321.90,78.50V87.10M320.40,78.50h3M320.40,87.10h3" stroke="#3a78b4" stroke-width="0.7" fill="none"/>
<circle cx="269" cy="31.2" r="2.3" fill="#c4122f"/>
<circle cx="293.6" cy="41.8" r="2.3" fill="#c4122f"/>
<circle cx="305.1" cy="48.9" r="2.3" fill="#c4122f"/>
<circle cx="321.9" cy="59.4" r="2.3" fill="#c4122f"/>
<circle cx="329.9" cy="77.6" r="2.3" fill="#c4122f"/>
<circle cx="315.6" cy="49.9" r="2.3" fill="#6e1c4c"/>
<circle cx="304.7" cy="33" r="2.3" fill="#1a3f74"/>
<circle cx="315.6" cy="44.7" r="2.3" fill="#1a3f74"/>
<circle cx="322.3" cy="53.1" r="2.3" fill="#1a3f74"/>
<circle cx="329.9" cy="61.3" r="2.3" fill="#1a3f74"/>
<circle cx="340.4" cy="74.3" r="2.3" fill="#1a3f74"/>
<rect x="313.00" y="55.70" width="4.4" height="4.4" fill="#fff" fill-opacity="0.6" stroke="#3a78b4" stroke-width="0.9"/>
<rect x="319.70" y="80.20" width="4.4" height="4.4" fill="#fff" fill-opacity="0.6" stroke="#3a78b4" stroke-width="0.9"/>
<rect x="327.70" y="93.20" width="4.4" height="4.4" fill="#fff" fill-opacity="0.6" stroke="#3a78b4" stroke-width="0.9"/>
<rect x="338.20" y="100.00" width="4.4" height="4.4" fill="#fff" fill-opacity="0.6" stroke="#3a78b4" stroke-width="0.9"/>
<rect x="291.40" y="45.40" width="4.4" height="4.4" fill="#fff" fill-opacity="0.6" stroke="#dc4660" stroke-width="0.9"/>
<rect x="302.30" y="70.60" width="4.4" height="4.4" fill="#fff" fill-opacity="0.6" stroke="#dc4660" stroke-width="0.9"/>
<rect x="313.00" y="95.80" width="4.4" height="4.4" fill="#fff" fill-opacity="0.6" stroke="#dc4660" stroke-width="0.9"/>
<rect x="319.70" y="99.70" width="4.4" height="4.4" fill="#fff" fill-opacity="0.6" stroke="#dc4660" stroke-width="0.9"/>
<line x1="233.50" y1="27.00" x2="233.50" y2="104.00" stroke="#111" stroke-width="1" />
<line x1="233.00" y1="103.50" x2="345.00" y2="103.50" stroke="#111" stroke-width="1" />
<line x1="230.50" y1="29.00" x2="233.50" y2="29.00" stroke="#111" stroke-width="0.8" />
<text x="227.80" y="31.60" font-size="7" text-anchor="end" fill="#222" font-weight="normal" >1.0</text>
<line x1="230.50" y1="66.00" x2="233.50" y2="66.00" stroke="#111" stroke-width="0.8" />
<text x="227.80" y="68.60" font-size="7" text-anchor="end" fill="#222" font-weight="normal" >0.5</text>
<line x1="230.50" y1="103.00" x2="233.50" y2="103.00" stroke="#111" stroke-width="0.8" />
<text x="227.80" y="105.60" font-size="7" text-anchor="end" fill="#222" font-weight="normal" >0.0</text>
<line x1="231.80" y1="84.50" x2="233.50" y2="84.50" stroke="#111" stroke-width="0.7" />
<line x1="231.80" y1="47.50" x2="233.50" y2="47.50" stroke="#111" stroke-width="0.7" />
<line x1="234.00" y1="103.00" x2="234.00" y2="105.50" stroke="#111" stroke-width="0.8" />
<text x="233.00" y="114.00" font-size="7" text-anchor="middle" fill="#222" font-weight="normal" >10<tspan font-size="4.3" dy="-3">1</tspan></text>
<line x1="269.30" y1="103.00" x2="269.30" y2="105.50" stroke="#111" stroke-width="0.8" />
<text x="268.30" y="114.00" font-size="7" text-anchor="middle" fill="#222" font-weight="normal" >10<tspan font-size="4.3" dy="-3">2</tspan></text>
<line x1="304.60" y1="103.00" x2="304.60" y2="105.50" stroke="#111" stroke-width="0.8" />
<text x="303.60" y="114.00" font-size="7" text-anchor="middle" fill="#222" font-weight="normal" >10<tspan font-size="4.3" dy="-3">3</tspan></text>
<line x1="339.90" y1="103.00" x2="339.90" y2="105.50" stroke="#111" stroke-width="0.8" />
<text x="338.90" y="114.00" font-size="7" text-anchor="middle" fill="#222" font-weight="normal" >10<tspan font-size="4.3" dy="-3">4</tspan></text>
<text x="289.30" y="122.60" font-size="7" text-anchor="middle" fill="#222" font-weight="normal" >GsMTx4 (nM)</text>
<text transform="translate(211.4,66.5) rotate(-90) scale(0.74,1)" font-size="8.4" text-anchor="middle" fill="#222">F/F</text>
<text transform="translate(214,59.9) rotate(-90)" font-size="6" text-anchor="middle" fill="#222">0</text>
<line x1="237.50" y1="53.10" x2="245.30" y2="53.10" stroke="#1a3f74" stroke-width="0.8" />
<circle cx="241.4" cy="53.10" r="2.2" fill="#1a3f74"/>
<text x="248.80" y="55.40" font-size="6.6" text-anchor="start" fill="#222" font-weight="normal" >Ca-HX001</text>
<line x1="237.50" y1="63.90" x2="245.30" y2="63.90" stroke="#3a78b4" stroke-width="0.8" />
<rect x="239.2" y="61.70" width="4.4" height="4.4" fill="#fff" fill-opacity="0.5" stroke="#3a78b4" stroke-width="0.9"/>
<text x="248.80" y="66.20" font-size="6.6" text-anchor="start" fill="#222" font-weight="normal" >PS%-HX001</text>
<line x1="237.50" y1="74.70" x2="245.30" y2="74.70" stroke="#c4122f" stroke-width="0.8" />
<circle cx="241.4" cy="74.70" r="2.2" fill="#c4122f"/>
<text x="248.80" y="77.00" font-size="6.6" text-anchor="start" fill="#222" font-weight="normal" >Ca-HX002</text>
<line x1="237.50" y1="85.50" x2="245.30" y2="85.50" stroke="#dc4660" stroke-width="0.8" />
<rect x="239.2" y="83.30" width="4.4" height="4.4" fill="#fff" fill-opacity="0.5" stroke="#dc4660" stroke-width="0.9"/>
<text x="248.80" y="87.80" font-size="6.6" text-anchor="start" fill="#222" font-weight="normal" >PS%-HX002</text>
<rect x="407.8" y="48.58" width="13" height="50.72" fill="#8e99c0"/>
<rect x="428.6" y="82.65" width="13.4" height="16.65" fill="#8e99c0"/>
<rect x="471" y="71.29" width="13" height="28.01" fill="#e78f80"/>
<rect x="491.8" y="91.20" width="13.2" height="8.10" fill="#e78f80"/>
<path d="M414.20,41.60V54.30M412.10,41.60h4.2M412.10,54.30h4.2" stroke="#1a1a2a" stroke-width="0.7" fill="none"/>
<circle cx="410.7" cy="41.7" r="2.05" fill="#1f4a82"/>
<circle cx="417.8" cy="42.1" r="2.05" fill="#1f4a82"/>
<circle cx="414.1" cy="61" r="2.05" fill="#1f4a82"/>
<path d="M477.60,61.20V79.00M475.60,61.20h4M475.60,79.00h4" stroke="#c8102e" stroke-width="0.7" fill="none"/>
<circle cx="477.6" cy="57.8" r="2.05" fill="#c8102e"/>
<circle cx="477.6" cy="68.9" r="2.05" fill="#c8102e"/>
<circle cx="473.9" cy="76.4" r="2.05" fill="#c8102e"/>
<circle cx="481.3" cy="76.4" r="2.05" fill="#c8102e"/>
<rect x="429.50" y="78.90" width="3.4" height="3.4" fill="#fff" fill-opacity="0.5" stroke="#1f4a82" stroke-width="0.7"/>
<rect x="433.60" y="80.00" width="3.4" height="3.4" fill="#fff" fill-opacity="0.5" stroke="#1f4a82" stroke-width="0.7"/>
<rect x="437.90" y="80.70" width="3.4" height="3.4" fill="#fff" fill-opacity="0.5" stroke="#1f4a82" stroke-width="0.7"/>
<rect x="493.00" y="91.00" width="3.4" height="3.4" fill="#fff" fill-opacity="0.5" stroke="#c8102e" stroke-width="0.7"/>
<rect x="497.20" y="91.30" width="3.4" height="3.4" fill="#fff" fill-opacity="0.5" stroke="#c8102e" stroke-width="0.7"/>
<rect x="501.40" y="91.00" width="3.4" height="3.4" fill="#fff" fill-opacity="0.5" stroke="#c8102e" stroke-width="0.7"/>
<line x1="431.00" y1="82.20" x2="440.50" y2="82.20" stroke="#1a2a50" stroke-width="0.8" />
<line x1="494.50" y1="93.00" x2="503.50" y2="93.00" stroke="#8a1020" stroke-width="0.8" />
<line x1="400.50" y1="20.80" x2="400.50" y2="100.00" stroke="#111" stroke-width="1" />
<line x1="397.20" y1="99.50" x2="513.00" y2="99.50" stroke="#111" stroke-width="1" />
<line x1="397.40" y1="99.30" x2="400.50" y2="99.30" stroke="#111" stroke-width="0.8" />
<text x="394.80" y="101.70" font-size="7" text-anchor="end" fill="#222" font-weight="normal" >0</text>
<line x1="397.40" y1="84.16" x2="400.50" y2="84.16" stroke="#111" stroke-width="0.8" />
<text x="394.80" y="86.56" font-size="7" text-anchor="end" fill="#222" font-weight="normal" >2</text>
<line x1="397.40" y1="69.02" x2="400.50" y2="69.02" stroke="#111" stroke-width="0.8" />
<text x="394.80" y="71.42" font-size="7" text-anchor="end" fill="#222" font-weight="normal" >4</text>
<line x1="397.40" y1="53.88" x2="400.50" y2="53.88" stroke="#111" stroke-width="0.8" />
<text x="394.80" y="56.28" font-size="7" text-anchor="end" fill="#222" font-weight="normal" >6</text>
<line x1="397.40" y1="38.74" x2="400.50" y2="38.74" stroke="#111" stroke-width="0.8" />
<text x="394.80" y="41.14" font-size="7" text-anchor="end" fill="#222" font-weight="normal" >8</text>
<line x1="397.40" y1="23.60" x2="400.50" y2="23.60" stroke="#111" stroke-width="0.8" />
<text x="394.80" y="26.00" font-size="7" text-anchor="end" fill="#222" font-weight="normal" >10</text>
<line x1="412.00" y1="35.50" x2="436.00" y2="35.50" stroke="#222" stroke-width="1" />
<text x="424.20" y="33.40" font-size="7.2" text-anchor="middle" fill="#222" font-weight="bold" >**</text>
<line x1="474.20" y1="50.50" x2="497.60" y2="50.50" stroke="#222" stroke-width="1" />
<text x="485.80" y="48.30" font-size="7.2" text-anchor="middle" fill="#222" font-weight="bold" >**</text>
<text x="406.30" y="110.00" font-size="7" text-anchor="start" fill="#222" font-weight="normal" >Ca<tspan font-size="4.8" dy="-2.9">2+</tspan></text>
<text x="469.80" y="110.00" font-size="7" text-anchor="start" fill="#222" font-weight="normal" >Ca<tspan font-size="4.8" dy="-2.9">2+</tspan></text>
<text x="434.60" y="110.00" font-size="7" text-anchor="middle" fill="#222" font-weight="normal" >PS</text>
<text x="498.40" y="110.00" font-size="7" text-anchor="middle" fill="#222" font-weight="normal" >PS</text>
<text x="424.40" y="124.60" font-size="7" text-anchor="middle" fill="#222" font-weight="normal" >HX001</text>
<text x="487.90" y="124.60" font-size="7" text-anchor="middle" fill="#222" font-weight="normal" >HX002</text>
<text transform="translate(380.9,61.4) rotate(-90)" font-size="7.6" text-anchor="middle" fill="#222" textLength="36.5" lengthAdjust="spacingAndGlyphs">IC<tspan font-size="5" dy="1.8">50</tspan><tspan dy="-1.8"> (μM)</tspan></text>
<rect x="47.3" y="197.8" width="118.5" height="211.3" fill="none" stroke="#333" stroke-width="1.1"/>
<text x="106.40" y="192.40" font-size="6.7" text-anchor="middle" fill="#222" font-weight="normal" >PS exposure in HX001 RBCs</text>
<path d="M52.00,215.50 C53.13,215.00 56.77,213.90 58.80,212.50 C60.83,211.10 62.42,209.00 64.20,207.10 C65.98,205.20 67.72,202.33 69.50,201.10 C71.28,199.87 73.10,199.87 74.90,199.70 C76.70,199.53 78.50,199.32 80.30,200.10 C82.10,200.88 83.90,202.67 85.70,204.40 C87.50,206.13 89.30,208.82 91.10,210.50 C92.90,212.18 94.72,213.60 96.50,214.50 C98.28,215.40 100.02,215.65 101.80,215.90 C103.58,216.15 106.30,215.98 107.20,216.00 L107.20,216.00 L52.00,216.00Z" fill="#e0e0e4"/>
<path d="M52.00,215.50 C53.13,215.00 56.77,213.90 58.80,212.50 C60.83,211.10 62.42,209.00 64.20,207.10 C65.98,205.20 67.72,202.33 69.50,201.10 C71.28,199.87 73.10,199.87 74.90,199.70 C76.70,199.53 78.50,199.32 80.30,200.10 C82.10,200.88 83.90,202.67 85.70,204.40 C87.50,206.13 89.30,208.82 91.10,210.50 C92.90,212.18 94.72,213.60 96.50,214.50 C98.28,215.40 100.02,215.65 101.80,215.90 C103.58,216.15 106.30,215.98 107.20,216.00" fill="none" stroke="#d4d4d8" stroke-width="0.6" stroke-linejoin="round"/>
<path d="M102.6,208.9V211.3M102.6,210.1H156.2M156.2,208.9V211.3" stroke="#2a2a2a" stroke-width="1.1"/>
<path d="M123.90,240.50 C124.93,239.98 128.17,239.25 130.10,237.40 C132.03,235.55 133.85,231.93 135.50,229.40 C137.15,226.87 138.72,223.80 140.00,222.20 C141.28,220.60 142.00,219.80 143.20,219.80 C144.40,219.80 145.78,220.30 147.20,222.20 C148.62,224.10 150.35,228.67 151.70,231.20 C153.05,233.73 154.25,235.92 155.30,237.40 C156.35,238.88 157.55,239.65 158.00,240.10 L158.00,240.80 L123.90,240.80Z" fill="#9ea0ae"/>
<path d="M123.90,240.50 C124.93,239.98 128.17,239.25 130.10,237.40 C132.03,235.55 133.85,231.93 135.50,229.40 C137.15,226.87 138.72,223.80 140.00,222.20 C141.28,220.60 142.00,219.80 143.20,219.80 C144.40,219.80 145.78,220.30 147.20,222.20 C148.62,224.10 150.35,228.67 151.70,231.20 C153.05,233.73 154.25,235.92 155.30,237.40 C156.35,238.88 157.55,239.65 158.00,240.10" fill="none" stroke="#4a5064" stroke-width="1.1" stroke-linejoin="round"/>
<path d="M120.30,262.60 C121.33,262.15 124.57,261.55 126.50,259.90 C128.43,258.25 130.10,255.25 131.90,252.70 C133.70,250.15 135.42,246.33 137.30,244.60 C139.18,242.87 141.40,242.15 143.20,242.30 C145.00,242.45 146.38,243.32 148.10,245.50 C149.82,247.68 151.70,252.70 153.50,255.40 C155.30,258.10 157.70,260.50 158.90,261.70 C160.10,262.90 160.40,262.45 160.70,262.60 L160.70,262.60 L120.30,262.60Z" fill="#e98e80"/>
<path d="M120.30,262.60 C121.33,262.15 124.57,261.55 126.50,259.90 C128.43,258.25 130.10,255.25 131.90,252.70 C133.70,250.15 135.42,246.33 137.30,244.60 C139.18,242.87 141.40,242.15 143.20,242.30 C145.00,242.45 146.38,243.32 148.10,245.50 C149.82,247.68 151.70,252.70 153.50,255.40 C155.30,258.10 157.70,260.50 158.90,261.70 C160.10,262.90 160.40,262.45 160.70,262.60" fill="none" stroke="#bf2a36" stroke-width="1.1" stroke-linejoin="round"/>
<path d="M108.60,284.10 C109.80,283.65 113.12,283.05 115.80,281.40 C118.48,279.75 122.02,276.58 124.70,274.20 C127.38,271.82 129.80,268.73 131.90,267.10 C134.00,265.47 135.50,264.40 137.30,264.40 C139.10,264.40 140.90,265.17 142.70,267.10 C144.50,269.03 146.30,273.37 148.10,276.00 C149.90,278.63 152.15,281.55 153.50,282.90 C154.85,284.25 155.75,283.90 156.20,284.10 L156.20,284.70 L108.60,284.70Z" fill="#acd3f2"/>
<path d="M108.60,284.10 C109.80,283.65 113.12,283.05 115.80,281.40 C118.48,279.75 122.02,276.58 124.70,274.20 C127.38,271.82 129.80,268.73 131.90,267.10 C134.00,265.47 135.50,264.40 137.30,264.40 C139.10,264.40 140.90,265.17 142.70,267.10 C144.50,269.03 146.30,273.37 148.10,276.00 C149.90,278.63 152.15,281.55 153.50,282.90 C154.85,284.25 155.75,283.90 156.20,284.10" fill="none" stroke="#4aa5d4" stroke-width="1.1" stroke-linejoin="round"/>
<path d="M58.90,306.90 C60.95,305.77 67.40,301.83 71.20,300.10 C75.00,298.37 78.18,297.32 81.70,296.50 C85.22,295.68 88.77,295.83 92.30,295.20 C95.83,294.57 99.37,293.90 102.90,292.70 C106.43,291.50 110.85,289.07 113.50,288.00 C116.15,286.93 117.05,286.40 118.80,286.30 C120.55,286.20 122.07,285.98 124.00,287.40 C125.93,288.82 128.28,292.33 130.40,294.80 C132.52,297.27 134.58,300.18 136.70,302.20 C138.82,304.22 142.03,306.12 143.10,306.90 L143.10,306.90 L58.90,306.90Z" fill="#8c97b9"/>
<path d="M58.90,306.90 C60.95,305.77 67.40,301.83 71.20,300.10 C75.00,298.37 78.18,297.32 81.70,296.50 C85.22,295.68 88.77,295.83 92.30,295.20 C95.83,294.57 99.37,293.90 102.90,292.70 C106.43,291.50 110.85,289.07 113.50,288.00 C116.15,286.93 117.05,286.40 118.80,286.30 C120.55,286.20 122.07,285.98 124.00,287.40 C125.93,288.82 128.28,292.33 130.40,294.80 C132.52,297.27 134.58,300.18 136.70,302.20 C138.82,304.22 142.03,306.12 143.10,306.90" fill="none" stroke="#223264" stroke-width="1.1" stroke-linejoin="round"/>
<path d="M52.10,328.80 C53.87,327.37 59.70,323.22 62.70,320.20 C65.70,317.18 67.92,312.72 70.10,310.70 C72.28,308.68 73.52,307.93 75.80,308.10 C78.08,308.27 81.05,309.87 83.80,311.70 C86.55,313.53 89.30,317.15 92.30,319.10 C95.30,321.05 98.27,322.87 101.80,323.40 C105.33,323.93 109.08,323.62 113.50,322.30 C117.92,320.98 124.07,316.03 128.30,315.50 C132.53,314.97 135.38,316.98 138.90,319.10 C142.42,321.22 147.65,326.68 149.40,328.20 L149.40,328.80 L52.10,328.80Z" fill="#cce6c0"/>
<path d="M52.10,328.80 C53.87,327.37 59.70,323.22 62.70,320.20 C65.70,317.18 67.92,312.72 70.10,310.70 C72.28,308.68 73.52,307.93 75.80,308.10 C78.08,308.27 81.05,309.87 83.80,311.70 C86.55,313.53 89.30,317.15 92.30,319.10 C95.30,321.05 98.27,322.87 101.80,323.40 C105.33,323.93 109.08,323.62 113.50,322.30 C117.92,320.98 124.07,316.03 128.30,315.50 C132.53,314.97 135.38,316.98 138.90,319.10 C142.42,321.22 147.65,326.68 149.40,328.20" fill="none" stroke="#45a84a" stroke-width="1.1" stroke-linejoin="round"/>
<path d="M51.80,351.00 C53.08,349.87 56.93,346.77 59.50,344.20 C62.07,341.63 64.95,337.68 67.20,335.60 C69.45,333.52 71.07,332.57 73.00,331.70 C74.93,330.83 76.55,330.23 78.80,330.40 C81.05,330.57 83.93,331.35 86.50,332.70 C89.07,334.05 91.65,336.73 94.20,338.50 C96.75,340.27 98.92,341.97 101.80,343.30 C104.68,344.63 108.28,345.55 111.50,346.50 C114.72,347.45 117.90,348.17 121.10,349.00 C124.30,349.83 127.18,351.05 130.70,351.50 C134.22,351.95 140.28,351.67 142.20,351.70 L142.20,351.70 L51.80,351.70Z" fill="#f29ac4"/>
<path d="M51.80,351.00 C53.08,349.87 56.93,346.77 59.50,344.20 C62.07,341.63 64.95,337.68 67.20,335.60 C69.45,333.52 71.07,332.57 73.00,331.70 C74.93,330.83 76.55,330.23 78.80,330.40 C81.05,330.57 83.93,331.35 86.50,332.70 C89.07,334.05 91.65,336.73 94.20,338.50 C96.75,340.27 98.92,341.97 101.80,343.30 C104.68,344.63 108.28,345.55 111.50,346.50 C114.72,347.45 117.90,348.17 121.10,349.00 C124.30,349.83 127.18,351.05 130.70,351.50 C134.22,351.95 140.28,351.67 142.20,351.70" fill="none" stroke="#dc2a7a" stroke-width="1.1" stroke-linejoin="round"/>
<path d="M51.80,375.40 C52.77,374.53 55.67,372.35 57.60,370.20 C59.53,368.05 61.63,364.75 63.40,362.50 C65.17,360.25 66.60,357.98 68.20,356.70 C69.80,355.42 71.23,354.80 73.00,354.80 C74.77,354.80 76.88,355.25 78.80,356.70 C80.72,358.15 82.58,361.08 84.50,363.50 C86.42,365.92 88.37,369.22 90.30,371.20 C92.23,373.18 94.18,374.45 96.10,375.40 C98.02,376.35 99.23,376.57 101.80,376.90 C104.37,377.23 108.88,377.28 111.50,377.40 C114.12,377.52 116.50,377.57 117.50,377.60 L117.50,377.60 L51.80,377.60Z" fill="#f6c480"/>
<path d="M51.80,375.40 C52.77,374.53 55.67,372.35 57.60,370.20 C59.53,368.05 61.63,364.75 63.40,362.50 C65.17,360.25 66.60,357.98 68.20,356.70 C69.80,355.42 71.23,354.80 73.00,354.80 C74.77,354.80 76.88,355.25 78.80,356.70 C80.72,358.15 82.58,361.08 84.50,363.50 C86.42,365.92 88.37,369.22 90.30,371.20 C92.23,373.18 94.18,374.45 96.10,375.40 C98.02,376.35 99.23,376.57 101.80,376.90 C104.37,377.23 108.88,377.28 111.50,377.40 C114.12,377.52 116.50,377.57 117.50,377.60" fill="none" stroke="#eda030" stroke-width="1.1" stroke-linejoin="round"/>
<text x="44.80" y="210.30" font-size="6.9" text-anchor="end" fill="#222" font-weight="normal" letter-spacing="0.3">GsMTx4</text>
<text x="44.80" y="233.80" font-size="6.9" text-anchor="end" fill="#222" font-weight="normal" letter-spacing="0.3">0</text>
<text x="44.80" y="257.30" font-size="6.9" text-anchor="end" fill="#222" font-weight="normal" letter-spacing="0.3">0.5 μM</text>
<text x="44.80" y="280.80" font-size="6.9" text-anchor="end" fill="#222" font-weight="normal" letter-spacing="0.3">1 μM</text>
<text x="44.80" y="304.90" font-size="6.9" text-anchor="end" fill="#222" font-weight="normal" letter-spacing="0.3">2 μM</text>
<text x="44.80" y="328.30" font-size="6.9" text-anchor="end" fill="#222" font-weight="normal" letter-spacing="0.3">3 μM</text>
<text x="44.80" y="351.80" font-size="6.9" text-anchor="end" fill="#222" font-weight="normal" letter-spacing="0.3">5 μM</text>
<text x="44.80" y="375.30" font-size="6.9" text-anchor="end" fill="#222" font-weight="normal" letter-spacing="0.3">10 μM</text>
<text x="188.00" y="211.60" font-size="6.7" text-anchor="middle" fill="#222" font-weight="normal" letter-spacing="0.15" word-spacing="0.8">No</text>
<text x="188.00" y="219.60" font-size="6.7" text-anchor="middle" fill="#222" font-weight="normal" letter-spacing="0.15" word-spacing="0.8">Yoda1</text>
<path d="M169.8,220.8 Q173.8,220.8 173.8,224.8 L173.8,296.5 Q173.8,299.8 176.9,299.8 Q173.8,299.8 173.8,303 L173.8,374.5 Q173.8,378.5 169.3,378.5" stroke="#444" stroke-width="1" fill="none"/>
<text x="184.70" y="296.60" font-size="6.7" text-anchor="start" fill="#222" font-weight="normal" letter-spacing="0.05" word-spacing="0.8">2 μM</text>
<text x="184.70" y="305.00" font-size="6.7" text-anchor="start" fill="#222" font-weight="normal" letter-spacing="0.05" word-spacing="0.8">Yoda1</text>
<rect x="259.6" y="196.6" width="131.9" height="214.4" fill="none" stroke="#333" stroke-width="1.1"/>
<text x="325.30" y="192.40" font-size="6.7" text-anchor="middle" fill="#222" font-weight="normal" >PS exposure in HX002 RBCs</text>
<path d="M268.90,221.70 C269.67,220.93 271.97,219.03 273.50,217.10 C275.03,215.17 276.55,212.50 278.10,210.10 C279.65,207.70 281.45,204.52 282.80,202.70 C284.15,200.88 285.05,199.88 286.20,199.20 C287.35,198.52 288.55,198.42 289.70,198.60 C290.85,198.78 291.75,198.95 293.10,200.30 C294.45,201.65 296.25,204.38 297.80,206.70 C299.35,209.02 300.87,211.98 302.40,214.20 C303.93,216.42 305.47,218.65 307.00,220.00 C308.53,221.35 310.07,221.88 311.60,222.30 C313.13,222.72 315.43,222.47 316.20,222.50 L316.20,222.50 L268.90,222.50Z" fill="#e0e0e4"/>
<path d="M268.90,221.70 C269.67,220.93 271.97,219.03 273.50,217.10 C275.03,215.17 276.55,212.50 278.10,210.10 C279.65,207.70 281.45,204.52 282.80,202.70 C284.15,200.88 285.05,199.88 286.20,199.20 C287.35,198.52 288.55,198.42 289.70,198.60 C290.85,198.78 291.75,198.95 293.10,200.30 C294.45,201.65 296.25,204.38 297.80,206.70 C299.35,209.02 300.87,211.98 302.40,214.20 C303.93,216.42 305.47,218.65 307.00,220.00 C308.53,221.35 310.07,221.88 311.60,222.30 C313.13,222.72 315.43,222.47 316.20,222.50" fill="none" stroke="#d4d4d8" stroke-width="0.6" stroke-linejoin="round"/>
<path d="M315.8,212.6V215M315.8,213.8H378.8M378.8,212.6V215" stroke="#2a2a2a" stroke-width="1.1"/>
<path d="M268.90,255.00 C270.83,254.82 276.65,254.35 280.50,253.90 C284.35,253.45 288.15,252.80 292.00,252.30 C295.85,251.80 299.75,251.42 303.60,250.90 C307.45,250.38 311.63,250.05 315.10,249.20 C318.57,248.35 321.32,247.52 324.40,245.80 C327.48,244.08 330.92,241.22 333.60,238.90 C336.28,236.58 338.18,233.52 340.50,231.90 C342.82,230.28 345.18,229.20 347.50,229.20 C349.82,229.20 352.10,229.72 354.40,231.90 C356.70,234.08 359.00,239.02 361.30,242.30 C363.60,245.58 365.88,249.48 368.20,251.60 C370.52,253.72 374.03,254.43 375.20,255.00 L375.20,255.00 L268.90,255.00Z" fill="#9ea0ae"/>
<path d="M268.90,255.00 C270.83,254.82 276.65,254.35 280.50,253.90 C284.35,253.45 288.15,252.80 292.00,252.30 C295.85,251.80 299.75,251.42 303.60,250.90 C307.45,250.38 311.63,250.05 315.10,249.20 C318.57,248.35 321.32,247.52 324.40,245.80 C327.48,244.08 330.92,241.22 333.60,238.90 C336.28,236.58 338.18,233.52 340.50,231.90 C342.82,230.28 345.18,229.20 347.50,229.20 C349.82,229.20 352.10,229.72 354.40,231.90 C356.70,234.08 359.00,239.02 361.30,242.30 C363.60,245.58 365.88,249.48 368.20,251.60 C370.52,253.72 374.03,254.43 375.20,255.00" fill="none" stroke="#4a5064" stroke-width="1.1" stroke-linejoin="round"/>
<path d="M268.90,283.90 C270.07,282.55 273.40,277.80 275.90,275.80 C278.40,273.80 281.22,272.08 283.90,271.90 C286.58,271.72 289.30,273.58 292.00,274.70 C294.70,275.82 297.40,277.72 300.10,278.60 C302.80,279.48 305.32,280.00 308.20,280.00 C311.08,280.00 313.93,279.68 317.40,278.60 C320.87,277.52 325.15,275.88 329.00,273.50 C332.85,271.12 337.42,266.42 340.50,264.30 C343.58,262.18 345.18,260.42 347.50,260.80 C349.82,261.18 352.10,263.52 354.40,266.60 C356.70,269.68 359.00,276.15 361.30,279.30 C363.60,282.45 365.70,284.30 368.20,285.50 C370.70,286.70 374.95,286.33 376.30,286.50 L376.30,286.50 L268.90,286.50Z" fill="#e98e80"/>
<path d="M268.90,283.90 C270.07,282.55 273.40,277.80 275.90,275.80 C278.40,273.80 281.22,272.08 283.90,271.90 C286.58,271.72 289.30,273.58 292.00,274.70 C294.70,275.82 297.40,277.72 300.10,278.60 C302.80,279.48 305.32,280.00 308.20,280.00 C311.08,280.00 313.93,279.68 317.40,278.60 C320.87,277.52 325.15,275.88 329.00,273.50 C332.85,271.12 337.42,266.42 340.50,264.30 C343.58,262.18 345.18,260.42 347.50,260.80 C349.82,261.18 352.10,263.52 354.40,266.60 C356.70,269.68 359.00,276.15 361.30,279.30 C363.60,282.45 365.70,284.30 368.20,285.50 C370.70,286.70 374.95,286.33 376.30,286.50" fill="none" stroke="#bf2a36" stroke-width="1.1" stroke-linejoin="round"/>
<path d="M268.30,311.30 C269.02,309.88 271.00,305.45 272.60,302.80 C274.20,300.15 275.97,297.17 277.90,295.40 C279.83,293.63 282.08,292.20 284.20,292.20 C286.32,292.20 288.30,293.63 290.60,295.40 C292.90,297.17 295.37,300.58 298.00,302.80 C300.63,305.02 303.23,307.47 306.40,308.70 C309.57,309.93 313.82,310.12 317.00,310.20 C320.18,310.28 322.50,309.37 325.50,309.20 C328.50,309.03 332.18,308.85 335.00,309.20 C337.82,309.55 339.75,310.25 342.40,311.30 C345.05,312.35 348.08,314.52 350.90,315.50 C353.72,316.48 357.20,316.88 359.30,317.20 C361.40,317.52 362.80,317.37 363.50,317.40 L363.50,317.40 L268.30,317.40Z" fill="#acd3f2"/>
<path d="M268.30,311.30 C269.02,309.88 271.00,305.45 272.60,302.80 C274.20,300.15 275.97,297.17 277.90,295.40 C279.83,293.63 282.08,292.20 284.20,292.20 C286.32,292.20 288.30,293.63 290.60,295.40 C292.90,297.17 295.37,300.58 298.00,302.80 C300.63,305.02 303.23,307.47 306.40,308.70 C309.57,309.93 313.82,310.12 317.00,310.20 C320.18,310.28 322.50,309.37 325.50,309.20 C328.50,309.03 332.18,308.85 335.00,309.20 C337.82,309.55 339.75,310.25 342.40,311.30 C345.05,312.35 348.08,314.52 350.90,315.50 C353.72,316.48 357.20,316.88 359.30,317.20 C361.40,317.52 362.80,317.37 363.50,317.40" fill="none" stroke="#4aa5d4" stroke-width="1.1" stroke-linejoin="round"/>
<path d="M268.30,347.20 C269.37,345.97 272.58,342.62 274.70,339.80 C276.82,336.98 278.53,333.02 281.00,330.30 C283.47,327.58 287.03,324.20 289.50,323.50 C291.97,322.80 293.68,324.27 295.80,326.10 C297.92,327.93 300.08,331.87 302.20,334.50 C304.32,337.13 306.03,340.13 308.50,341.90 C310.97,343.67 313.47,344.22 317.00,345.10 C320.53,345.98 325.47,346.62 329.70,347.20 C333.93,347.78 339.23,348.37 342.40,348.60 C345.57,348.83 347.65,348.60 348.70,348.60 L348.70,348.60 L268.30,348.60Z" fill="#8c97b9"/>
<path d="M268.30,347.20 C269.37,345.97 272.58,342.62 274.70,339.80 C276.82,336.98 278.53,333.02 281.00,330.30 C283.47,327.58 287.03,324.20 289.50,323.50 C291.97,322.80 293.68,324.27 295.80,326.10 C297.92,327.93 300.08,331.87 302.20,334.50 C304.32,337.13 306.03,340.13 308.50,341.90 C310.97,343.67 313.47,344.22 317.00,345.10 C320.53,345.98 325.47,346.62 329.70,347.20 C333.93,347.78 339.23,348.37 342.40,348.60 C345.57,348.83 347.65,348.60 348.70,348.60" fill="none" stroke="#223264" stroke-width="1.1" stroke-linejoin="round"/>
<path d="M268.90,378.10 C269.80,377.33 272.63,375.68 274.30,373.50 C275.97,371.32 277.23,367.70 278.90,365.00 C280.57,362.30 282.63,358.97 284.30,357.30 C285.97,355.63 287.37,355.00 288.90,355.00 C290.43,355.00 291.83,355.63 293.50,357.30 C295.17,358.97 297.23,362.30 298.90,365.00 C300.57,367.70 301.95,371.40 303.50,373.50 C305.05,375.60 306.40,376.70 308.20,377.60 C310.00,378.50 312.77,378.68 314.30,378.90 C315.83,379.12 316.88,378.90 317.40,378.90 L317.40,378.90 L268.90,378.90Z" fill="#cce6c0"/>
<path d="M268.90,378.10 C269.80,377.33 272.63,375.68 274.30,373.50 C275.97,371.32 277.23,367.70 278.90,365.00 C280.57,362.30 282.63,358.97 284.30,357.30 C285.97,355.63 287.37,355.00 288.90,355.00 C290.43,355.00 291.83,355.63 293.50,357.30 C295.17,358.97 297.23,362.30 298.90,365.00 C300.57,367.70 301.95,371.40 303.50,373.50 C305.05,375.60 306.40,376.70 308.20,377.60 C310.00,378.50 312.77,378.68 314.30,378.90 C315.83,379.12 316.88,378.90 317.40,378.90" fill="none" stroke="#45a84a" stroke-width="1.1" stroke-linejoin="round"/>
<text x="257.20" y="219.50" font-size="6.9" text-anchor="end" fill="#222" font-weight="normal" letter-spacing="0.3">GsMTx4</text>
<text x="257.20" y="251.50" font-size="6.9" text-anchor="end" fill="#222" font-weight="normal" letter-spacing="0.3">0</text>
<text x="257.20" y="283.30" font-size="6.9" text-anchor="end" fill="#222" font-weight="normal" letter-spacing="0.3">0.5 μM</text>
<text x="257.20" y="314.90" font-size="6.9" text-anchor="end" fill="#222" font-weight="normal" letter-spacing="0.3">1 μM</text>
<text x="257.20" y="346.50" font-size="6.9" text-anchor="end" fill="#222" font-weight="normal" letter-spacing="0.3">2 μM</text>
<text x="257.20" y="377.80" font-size="6.9" text-anchor="end" fill="#222" font-weight="normal" letter-spacing="0.3">3 μM</text>
<text x="397.50" y="214.00" font-size="6.7" text-anchor="start" fill="#222" font-weight="normal" letter-spacing="0.15" word-spacing="0.8">No Yoda1</text>
<path d="M395,227.6 Q398.7,227.6 398.7,231.5 L398.7,298.5 Q398.7,301.5 401.4,301.5 Q398.7,301.5 398.7,304.5 L398.7,370 Q398.7,374 394.8,374" stroke="#444" stroke-width="1" fill="none"/>
<text x="405.00" y="298.80" font-size="6.7" text-anchor="start" fill="#222" font-weight="normal" letter-spacing="0.05" word-spacing="0.8">2 μM</text>
<text x="405.00" y="307.00" font-size="6.7" text-anchor="start" fill="#222" font-weight="normal" letter-spacing="0.05" word-spacing="0.8">Yoda1</text>
<g stroke="#444" stroke-width="0.6">
<path d="M59.50,379.50V377.30H69.30V379.50" fill="none" stroke-width="0.8"/>
<line x1="61.95" y1="377.30" x2="61.95" y2="379.30"/>
<line x1="64.40" y1="377.30" x2="64.40" y2="379.30"/>
<line x1="66.85" y1="377.30" x2="66.85" y2="379.30"/>
<rect x="62.93" y="377.30" width="1.6" height="2.2" fill="#222" stroke="none"/>
<line x1="72.50" y1="377.10" x2="72.50" y2="379.50"/>
<line x1="79.72" y1="377.60" x2="79.72" y2="379.00"/>
<line x1="83.95" y1="377.60" x2="83.95" y2="379.00"/>
<line x1="86.95" y1="377.60" x2="86.95" y2="379.00"/>
<line x1="89.28" y1="377.60" x2="89.28" y2="379.00"/>
<line x1="91.18" y1="377.60" x2="91.18" y2="379.00"/>
<line x1="92.78" y1="377.60" x2="92.78" y2="379.00"/>
<line x1="94.17" y1="377.60" x2="94.17" y2="379.00"/>
<line x1="95.40" y1="377.60" x2="95.40" y2="379.00"/>
<line x1="96.50" y1="377.10" x2="96.50" y2="379.50"/>
<line x1="96.50" y1="377.10" x2="96.50" y2="379.50"/>
<line x1="108.18" y1="377.60" x2="108.18" y2="379.00"/>
<line x1="115.01" y1="377.60" x2="115.01" y2="379.00"/>
<line x1="119.86" y1="377.60" x2="119.86" y2="379.00"/>
<line x1="123.62" y1="377.60" x2="123.62" y2="379.00"/>
<line x1="126.69" y1="377.60" x2="126.69" y2="379.00"/>
<line x1="129.29" y1="377.60" x2="129.29" y2="379.00"/>
<line x1="131.54" y1="377.60" x2="131.54" y2="379.00"/>
<line x1="133.52" y1="377.60" x2="133.52" y2="379.00"/>
<line x1="135.30" y1="377.10" x2="135.30" y2="379.50"/>
<line x1="135.30" y1="377.10" x2="135.30" y2="379.50"/>
<line x1="145.23" y1="377.60" x2="145.23" y2="379.00"/>
<line x1="151.05" y1="377.60" x2="151.05" y2="379.00"/>
<line x1="155.17" y1="377.60" x2="155.17" y2="379.00"/>
<line x1="158.37" y1="377.60" x2="158.37" y2="379.00"/>
<line x1="160.98" y1="377.60" x2="160.98" y2="379.00"/>
</g>
<text x="59.50" y="389.60" font-size="6.6" text-anchor="middle" fill="#222" font-weight="normal" >−10<tspan font-size="4.2" dy="-2.7">2</tspan></text>
<text x="78.50" y="389.60" font-size="6.6" text-anchor="middle" fill="#222" font-weight="normal" >10<tspan font-size="4.2" dy="-2.7">2</tspan></text>
<text x="97.30" y="389.60" font-size="6.6" text-anchor="middle" fill="#222" font-weight="normal" >10<tspan font-size="4.2" dy="-2.7">3</tspan></text>
<text x="135.60" y="389.60" font-size="6.6" text-anchor="middle" fill="#222" font-weight="normal" >10<tspan font-size="4.2" dy="-2.7">4</tspan></text>
<text x="156.00" y="389.60" font-size="6.6" text-anchor="middle" fill="#222" font-weight="normal" >10<tspan font-size="4.2" dy="-2.7">5</tspan></text>
<text x="106.60" y="401.80" font-size="7.2" text-anchor="middle" fill="#222" font-weight="normal" >CF 488::Annexin V</text>
<g stroke="#444" stroke-width="0.6">
<path d="M273.10,383.10V380.90H286.20V383.10" fill="none" stroke-width="0.8"/>
<line x1="276.38" y1="380.90" x2="276.38" y2="382.90"/>
<line x1="279.65" y1="380.90" x2="279.65" y2="382.90"/>
<line x1="282.93" y1="380.90" x2="282.93" y2="382.90"/>
<rect x="277.69" y="380.90" width="1.6" height="2.2" fill="#222" stroke="none"/>
<line x1="289.00" y1="380.70" x2="289.00" y2="383.10"/>
<line x1="297.01" y1="381.20" x2="297.01" y2="382.60"/>
<line x1="301.69" y1="381.20" x2="301.69" y2="382.60"/>
<line x1="305.01" y1="381.20" x2="305.01" y2="382.60"/>
<line x1="307.59" y1="381.20" x2="307.59" y2="382.60"/>
<line x1="309.70" y1="381.20" x2="309.70" y2="382.60"/>
<line x1="311.48" y1="381.20" x2="311.48" y2="382.60"/>
<line x1="313.02" y1="381.20" x2="313.02" y2="382.60"/>
<line x1="314.38" y1="381.20" x2="314.38" y2="382.60"/>
<line x1="315.60" y1="380.70" x2="315.60" y2="383.10"/>
<line x1="315.60" y1="380.70" x2="315.60" y2="383.10"/>
<line x1="326.20" y1="381.20" x2="326.20" y2="382.60"/>
<line x1="332.39" y1="381.20" x2="332.39" y2="382.60"/>
<line x1="336.79" y1="381.20" x2="336.79" y2="382.60"/>
<line x1="340.20" y1="381.20" x2="340.20" y2="382.60"/>
<line x1="342.99" y1="381.20" x2="342.99" y2="382.60"/>
<line x1="345.35" y1="381.20" x2="345.35" y2="382.60"/>
<line x1="347.39" y1="381.20" x2="347.39" y2="382.60"/>
<line x1="349.19" y1="381.20" x2="349.19" y2="382.60"/>
<line x1="350.80" y1="380.70" x2="350.80" y2="383.10"/>
<line x1="350.80" y1="380.70" x2="350.80" y2="383.10"/>
<line x1="359.86" y1="381.20" x2="359.86" y2="382.60"/>
<line x1="365.16" y1="381.20" x2="365.16" y2="382.60"/>
<line x1="368.92" y1="381.20" x2="368.92" y2="382.60"/>
<line x1="371.84" y1="381.20" x2="371.84" y2="382.60"/>
<line x1="374.22" y1="381.20" x2="374.22" y2="382.60"/>
<line x1="376.24" y1="381.20" x2="376.24" y2="382.60"/>
<line x1="377.98" y1="381.20" x2="377.98" y2="382.60"/>
<line x1="379.52" y1="381.20" x2="379.52" y2="382.60"/>
<line x1="380.90" y1="380.70" x2="380.90" y2="383.10"/>
</g>
<text x="276.50" y="392.80" font-size="6.6" text-anchor="middle" fill="#222" font-weight="normal" >−10<tspan font-size="4.2" dy="-2.7">2</tspan></text>
<text x="294.80" y="392.80" font-size="6.6" text-anchor="middle" fill="#222" font-weight="normal" >10<tspan font-size="4.2" dy="-2.7">2</tspan></text>
<text x="316.40" y="392.80" font-size="6.6" text-anchor="middle" fill="#222" font-weight="normal" >10<tspan font-size="4.2" dy="-2.7">3</tspan></text>
<text x="349.10" y="392.80" font-size="6.6" text-anchor="middle" fill="#222" font-weight="normal" >10<tspan font-size="4.2" dy="-2.7">4</tspan></text>
<text x="377.00" y="392.80" font-size="6.6" text-anchor="middle" fill="#222" font-weight="normal" >10<tspan font-size="4.2" dy="-2.7">5</tspan></text>
<text x="325.80" y="405.90" font-size="7.2" text-anchor="middle" fill="#222" font-weight="normal" >CF 488::Annexin V</text>
<rect x="0.5" y="0.5" width="519" height="417" fill="none" stroke="#4f4f4f" stroke-width="1"/>
</svg>
</body></html>
